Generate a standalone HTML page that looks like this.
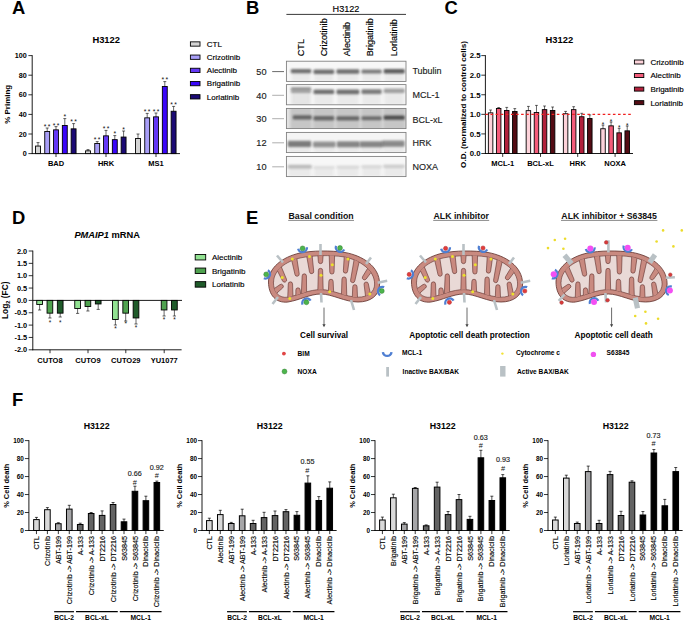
<!DOCTYPE html>
<html><head><meta charset="utf-8"><style>
html,body{margin:0;padding:0;background:#fff;}
svg{display:block;}
text{font-family:"Liberation Sans", sans-serif;}
</style></head><body>
<svg width="685" height="621" viewBox="0 0 685 621" font-family='"Liberation Sans", sans-serif'>
<rect width="685" height="621" fill="#fff"/>
<text x="11.90" y="14.07" font-size="18.4" font-weight="bold">A</text>
<text x="246.00" y="14.07" font-size="18.4" font-weight="bold">B</text>
<text x="444.60" y="14.07" font-size="18.4" font-weight="bold">C</text>
<text x="12.10" y="223.87" font-size="18.4" font-weight="bold">D</text>
<text x="246.00" y="223.77" font-size="18.4" font-weight="bold">E</text>
<text x="12.10" y="405.97" font-size="18.4" font-weight="bold">F</text>
<text x="106.20" y="42.97" font-size="9.4" text-anchor="middle" font-weight="bold" fill="#000"  >H3122</text>
<line x1="28.40" y1="153.60" x2="32.20" y2="153.60" stroke="#000" stroke-width="0.8" />
<text x="26.80" y="156.18" font-size="7.2" text-anchor="end" font-weight="bold" fill="#000"  >0</text>
<line x1="28.40" y1="134.00" x2="32.20" y2="134.00" stroke="#000" stroke-width="0.8" />
<text x="26.80" y="136.58" font-size="7.2" text-anchor="end" font-weight="bold" fill="#000"  >20</text>
<line x1="28.40" y1="114.40" x2="32.20" y2="114.40" stroke="#000" stroke-width="0.8" />
<text x="26.80" y="116.98" font-size="7.2" text-anchor="end" font-weight="bold" fill="#000"  >40</text>
<line x1="28.40" y1="94.80" x2="32.20" y2="94.80" stroke="#000" stroke-width="0.8" />
<text x="26.80" y="97.38" font-size="7.2" text-anchor="end" font-weight="bold" fill="#000"  >60</text>
<line x1="28.40" y1="75.20" x2="32.20" y2="75.20" stroke="#000" stroke-width="0.8" />
<text x="26.80" y="77.78" font-size="7.2" text-anchor="end" font-weight="bold" fill="#000"  >80</text>
<line x1="28.40" y1="55.60" x2="32.20" y2="55.60" stroke="#000" stroke-width="0.8" />
<text x="26.80" y="58.18" font-size="7.2" text-anchor="end" font-weight="bold" fill="#000"  >100</text>
<line x1="32.20" y1="55.20" x2="32.20" y2="154.00" stroke="#000" stroke-width="0.9" />
<line x1="31.80" y1="153.60" x2="180.00" y2="153.60" stroke="#000" stroke-width="0.9" />
<text transform="translate(9.56,104.30) rotate(-90)" font-size="8.0" text-anchor="middle" font-weight="bold" fill="#000">% Priming</text>
<line x1="38.00" y1="147.60" x2="38.00" y2="142.60" stroke="#000" stroke-width="0.6" />
<line x1="36.50" y1="142.60" x2="39.50" y2="142.60" stroke="#000" stroke-width="0.6" />
<rect x="35.55" y="146.05" width="4.90" height="7.55" fill="#d4d4d4" stroke="#000" stroke-width="0.9" />
<line x1="47.20" y1="133.00" x2="47.20" y2="128.00" stroke="#000" stroke-width="0.6" />
<line x1="45.70" y1="128.00" x2="48.70" y2="128.00" stroke="#000" stroke-width="0.6" />
<rect x="44.75" y="131.45" width="4.90" height="22.15" fill="#a89ef7" stroke="#000" stroke-width="0.9" />
<text x="45.20" y="129.48" font-size="6.8" text-anchor="middle" fill="#111">*</text>
<text x="49.20" y="129.48" font-size="6.8" text-anchor="middle" fill="#111">*</text>
<line x1="56.00" y1="131.40" x2="56.00" y2="126.60" stroke="#000" stroke-width="0.6" />
<line x1="54.50" y1="126.60" x2="57.50" y2="126.60" stroke="#000" stroke-width="0.6" />
<rect x="53.55" y="129.85" width="4.90" height="23.75" fill="#6438f5" stroke="#000" stroke-width="0.9" />
<text x="54.00" y="127.88" font-size="6.8" text-anchor="middle" fill="#111">*</text>
<text x="58.00" y="127.88" font-size="6.8" text-anchor="middle" fill="#111">*</text>
<line x1="64.80" y1="127.00" x2="64.80" y2="118.60" stroke="#000" stroke-width="0.6" />
<line x1="63.30" y1="118.60" x2="66.30" y2="118.60" stroke="#000" stroke-width="0.6" />
<rect x="62.35" y="125.45" width="4.90" height="28.15" fill="#3a06fa" stroke="#000" stroke-width="0.9" />
<text x="64.80" y="119.48" font-size="6.8" text-anchor="middle" fill="#111">*</text>
<line x1="73.60" y1="130.40" x2="73.60" y2="123.60" stroke="#000" stroke-width="0.6" />
<line x1="72.10" y1="123.60" x2="75.10" y2="123.60" stroke="#000" stroke-width="0.6" />
<rect x="71.15" y="128.85" width="4.90" height="24.75" fill="#1b0a74" stroke="#000" stroke-width="0.9" />
<text x="71.60" y="124.48" font-size="6.8" text-anchor="middle" fill="#111">*</text>
<text x="75.60" y="124.48" font-size="6.8" text-anchor="middle" fill="#111">*</text>
<line x1="56.00" y1="153.60" x2="56.00" y2="157.00" stroke="#000" stroke-width="0.8" />
<text x="56.00" y="166.09" font-size="7.5" text-anchor="middle" font-weight="bold" fill="#000"  >BAD</text>
<line x1="88.00" y1="152.40" x2="88.00" y2="149.60" stroke="#000" stroke-width="0.6" />
<line x1="86.50" y1="149.60" x2="89.50" y2="149.60" stroke="#000" stroke-width="0.6" />
<rect x="85.55" y="150.85" width="4.90" height="2.75" fill="#d4d4d4" stroke="#000" stroke-width="0.9" />
<line x1="97.20" y1="145.00" x2="97.20" y2="141.60" stroke="#000" stroke-width="0.6" />
<line x1="95.70" y1="141.60" x2="98.70" y2="141.60" stroke="#000" stroke-width="0.6" />
<rect x="94.75" y="143.45" width="4.90" height="10.15" fill="#a89ef7" stroke="#000" stroke-width="0.9" />
<text x="95.20" y="142.48" font-size="6.8" text-anchor="middle" fill="#111">*</text>
<text x="99.20" y="142.48" font-size="6.8" text-anchor="middle" fill="#111">*</text>
<line x1="106.00" y1="137.40" x2="106.00" y2="130.40" stroke="#000" stroke-width="0.6" />
<line x1="104.50" y1="130.40" x2="107.50" y2="130.40" stroke="#000" stroke-width="0.6" />
<rect x="103.55" y="135.85" width="4.90" height="17.75" fill="#6438f5" stroke="#000" stroke-width="0.9" />
<text x="104.00" y="131.48" font-size="6.8" text-anchor="middle" fill="#111">*</text>
<text x="108.00" y="131.48" font-size="6.8" text-anchor="middle" fill="#111">*</text>
<line x1="114.80" y1="141.20" x2="114.80" y2="135.60" stroke="#000" stroke-width="0.6" />
<line x1="113.30" y1="135.60" x2="116.30" y2="135.60" stroke="#000" stroke-width="0.6" />
<rect x="112.35" y="139.65" width="4.90" height="13.95" fill="#3a06fa" stroke="#000" stroke-width="0.9" />
<text x="114.80" y="135.88" font-size="6.8" text-anchor="middle" fill="#111">*</text>
<line x1="123.60" y1="138.60" x2="123.60" y2="131.00" stroke="#000" stroke-width="0.6" />
<line x1="122.10" y1="131.00" x2="125.10" y2="131.00" stroke="#000" stroke-width="0.6" />
<rect x="121.15" y="137.05" width="4.90" height="16.55" fill="#1b0a74" stroke="#000" stroke-width="0.9" />
<text x="123.60" y="131.88" font-size="6.8" text-anchor="middle" fill="#111">*</text>
<line x1="106.00" y1="153.60" x2="106.00" y2="157.00" stroke="#000" stroke-width="0.8" />
<text x="106.00" y="166.09" font-size="7.5" text-anchor="middle" font-weight="bold" fill="#000"  >HRK</text>
<line x1="138.00" y1="140.00" x2="138.00" y2="134.00" stroke="#000" stroke-width="0.6" />
<line x1="136.50" y1="134.00" x2="139.50" y2="134.00" stroke="#000" stroke-width="0.6" />
<rect x="135.55" y="138.45" width="4.90" height="15.15" fill="#d4d4d4" stroke="#000" stroke-width="0.9" />
<line x1="147.20" y1="119.40" x2="147.20" y2="113.40" stroke="#000" stroke-width="0.6" />
<line x1="145.70" y1="113.40" x2="148.70" y2="113.40" stroke="#000" stroke-width="0.6" />
<rect x="144.75" y="117.85" width="4.90" height="35.75" fill="#a89ef7" stroke="#000" stroke-width="0.9" />
<text x="145.20" y="114.28" font-size="6.8" text-anchor="middle" fill="#111">*</text>
<text x="149.20" y="114.28" font-size="6.8" text-anchor="middle" fill="#111">*</text>
<line x1="156.00" y1="118.40" x2="156.00" y2="113.00" stroke="#000" stroke-width="0.6" />
<line x1="154.50" y1="113.00" x2="157.50" y2="113.00" stroke="#000" stroke-width="0.6" />
<rect x="153.55" y="116.85" width="4.90" height="36.75" fill="#6438f5" stroke="#000" stroke-width="0.9" />
<text x="154.00" y="114.28" font-size="6.8" text-anchor="middle" fill="#111">*</text>
<text x="158.00" y="114.28" font-size="6.8" text-anchor="middle" fill="#111">*</text>
<line x1="164.80" y1="88.00" x2="164.80" y2="81.60" stroke="#000" stroke-width="0.6" />
<line x1="163.30" y1="81.60" x2="166.30" y2="81.60" stroke="#000" stroke-width="0.6" />
<rect x="162.35" y="86.45" width="4.90" height="67.15" fill="#3a06fa" stroke="#000" stroke-width="0.9" />
<text x="162.80" y="82.48" font-size="6.8" text-anchor="middle" fill="#111">*</text>
<text x="166.80" y="82.48" font-size="6.8" text-anchor="middle" fill="#111">*</text>
<line x1="173.60" y1="112.80" x2="173.60" y2="106.40" stroke="#000" stroke-width="0.6" />
<line x1="172.10" y1="106.40" x2="175.10" y2="106.40" stroke="#000" stroke-width="0.6" />
<rect x="171.15" y="111.25" width="4.90" height="42.35" fill="#1b0a74" stroke="#000" stroke-width="0.9" />
<text x="171.60" y="107.48" font-size="6.8" text-anchor="middle" fill="#111">*</text>
<text x="175.60" y="107.48" font-size="6.8" text-anchor="middle" fill="#111">*</text>
<line x1="156.00" y1="153.60" x2="156.00" y2="157.00" stroke="#000" stroke-width="0.8" />
<text x="156.00" y="166.09" font-size="7.5" text-anchor="middle" font-weight="bold" fill="#000"  >MS1</text>
<rect x="190.40" y="41.85" width="9.60" height="4.30" fill="#d4d4d4" stroke="#000" stroke-width="0.9" />
<text x="206.80" y="46.86" font-size="8.0" text-anchor="start" font-weight="normal" fill="#000" stroke="#000" stroke-width="0.15"  >CTL</text>
<rect x="190.40" y="55.05" width="9.60" height="4.30" fill="#a89ef7" stroke="#000" stroke-width="0.9" />
<text x="206.80" y="60.06" font-size="8.0" text-anchor="start" font-weight="normal" fill="#000" stroke="#000" stroke-width="0.15"  >Crizotinib</text>
<rect x="190.40" y="68.25" width="9.60" height="4.30" fill="#6438f5" stroke="#000" stroke-width="0.9" />
<text x="206.80" y="73.26" font-size="8.0" text-anchor="start" font-weight="normal" fill="#000" stroke="#000" stroke-width="0.15"  >Alectinib</text>
<rect x="190.40" y="81.45" width="9.60" height="4.30" fill="#3a06fa" stroke="#000" stroke-width="0.9" />
<text x="206.80" y="86.46" font-size="8.0" text-anchor="start" font-weight="normal" fill="#000" stroke="#000" stroke-width="0.15"  >Brigatinib</text>
<rect x="190.40" y="94.65" width="9.60" height="4.30" fill="#1b0a74" stroke="#000" stroke-width="0.9" />
<text x="206.80" y="99.66" font-size="8.0" text-anchor="start" font-weight="normal" fill="#000" stroke="#000" stroke-width="0.15"  >Lorlatinib</text>
<text x="346.00" y="12.06" font-size="9.1" text-anchor="middle" font-weight="normal" fill="#000" stroke="#000" stroke-width="0.15"  >H3122</text>
<line x1="286.40" y1="14.40" x2="406.00" y2="14.40" stroke="#222" stroke-width="0.9" />
<text transform="translate(303.66,56.20) rotate(-90)" font-size="9.1" text-anchor="start" font-weight="normal" fill="#000" stroke="#000" stroke-width="0.15">CTL</text>
<text transform="translate(326.66,56.20) rotate(-90)" font-size="9.1" text-anchor="start" font-weight="normal" fill="#000" stroke="#000" stroke-width="0.15">Crizotinib</text>
<text transform="translate(350.16,56.20) rotate(-90)" font-size="9.1" text-anchor="start" font-weight="normal" fill="#000" stroke="#000" stroke-width="0.15">Alectinib</text>
<text transform="translate(373.46,56.20) rotate(-90)" font-size="9.1" text-anchor="start" font-weight="normal" fill="#000" stroke="#000" stroke-width="0.15">Brigatinib</text>
<text transform="translate(396.66,56.20) rotate(-90)" font-size="9.1" text-anchor="start" font-weight="normal" fill="#000" stroke="#000" stroke-width="0.15">Lorlatinib</text>
<defs><filter id="bl" x="-30%" y="-100%" width="160%" height="300%"><feGaussianBlur stdDeviation="1.3 1.0"/></filter><filter id="bl2" x="-30%" y="-30%" width="160%" height="160%"><feGaussianBlur stdDeviation="1.6 1.0"/></filter></defs>
<rect x="286.4" y="61.20" width="119.6" height="20.2" fill="#f7f7f7" stroke="none"/>
<clipPath id="bx0"><rect x="286.4" y="61.20" width="119.6" height="20.2"/></clipPath>
<g clip-path="url(#bx0)">
<rect x="291.6" y="71.10" width="18.8" height="10.30" fill="#e0e0e0" opacity="0.55" filter="url(#bl2)"/>
<rect x="314.3" y="71.70" width="19.1" height="9.70" fill="#e0e0e0" opacity="0.55" filter="url(#bl2)"/>
<rect x="337.3" y="71.50" width="21.2" height="9.90" fill="#e0e0e0" opacity="0.55" filter="url(#bl2)"/>
<rect x="362.3" y="71.50" width="18.5" height="9.90" fill="#e0e0e0" opacity="0.55" filter="url(#bl2)"/>
<rect x="384.5" y="71.20" width="19.4" height="10.20" fill="#e0e0e0" opacity="0.55" filter="url(#bl2)"/>
<rect x="290.8" y="68.90" width="20.4" height="4.4" rx="1.2" fill="#5a5a5a" opacity="0.85" filter="url(#bl)"/>
<rect x="313.5" y="69.50" width="20.7" height="4.4" rx="1.2" fill="#5a5a5a" opacity="0.85" filter="url(#bl)"/>
<rect x="336.5" y="69.30" width="22.8" height="4.4" rx="1.2" fill="#5a5a5a" opacity="0.85" filter="url(#bl)"/>
<rect x="361.5" y="69.40" width="20.1" height="4.2" rx="1.2" fill="#5e5e5e" opacity="0.8" filter="url(#bl)"/>
<rect x="383.7" y="68.90" width="21.0" height="4.6" rx="1.2" fill="#505050" opacity="0.9" filter="url(#bl)"/>
</g>
<rect x="286.4" y="61.20" width="119.6" height="20.2" fill="none" stroke="#7c7c7c" stroke-width="0.85"/>
<text x="266.60" y="74.89" font-size="9.2" text-anchor="end" font-weight="normal" fill="#222" stroke="#222" stroke-width="0.15"  >50</text>
<line x1="272.20" y1="71.60" x2="284.00" y2="71.60" stroke="#444" stroke-width="0.8" />
<text x="412.40" y="74.42" font-size="9.0" text-anchor="start" font-weight="normal" fill="#222" stroke="#222" stroke-width="0.15"  >Tubulin</text>
<rect x="286.4" y="84.60" width="119.6" height="20.2" fill="#f7f7f7" stroke="none"/>
<clipPath id="bx1"><rect x="286.4" y="84.60" width="119.6" height="20.2"/></clipPath>
<g clip-path="url(#bx1)">
<rect x="291.6" y="88.90" width="18.8" height="15.90" fill="#e0e0e0" opacity="0.55" filter="url(#bl2)"/>
<rect x="291.6" y="91.60" width="18.8" height="13.20" fill="#e0e0e0" opacity="0.55" filter="url(#bl2)"/>
<rect x="314.3" y="91.80" width="19.1" height="13.00" fill="#e0e0e0" opacity="0.55" filter="url(#bl2)"/>
<rect x="337.3" y="91.90" width="21.2" height="12.90" fill="#e0e0e0" opacity="0.55" filter="url(#bl2)"/>
<rect x="362.3" y="91.60" width="18.5" height="13.20" fill="#e0e0e0" opacity="0.55" filter="url(#bl2)"/>
<rect x="384.5" y="90.80" width="19.4" height="14.00" fill="#e0e0e0" opacity="0.55" filter="url(#bl2)"/>
<rect x="290.8" y="87.30" width="20.4" height="3.2" rx="1.2" fill="#5e5e5e" opacity="0.65" filter="url(#bl)"/>
<rect x="290.8" y="90.20" width="20.4" height="2.8" rx="1.2" fill="#6a6a6a" opacity="0.55" filter="url(#bl)"/>
<rect x="313.5" y="89.50" width="20.7" height="4.6" rx="1.2" fill="#5a5a5a" opacity="0.85" filter="url(#bl)"/>
<rect x="336.5" y="89.60" width="22.8" height="4.6" rx="1.2" fill="#5a5a5a" opacity="0.85" filter="url(#bl)"/>
<rect x="361.5" y="89.20" width="20.1" height="4.8" rx="1.2" fill="#5e5e5e" opacity="0.8" filter="url(#bl)"/>
<rect x="383.7" y="88.60" width="21.0" height="4.4" rx="1.2" fill="#6e6e6e" opacity="0.62" filter="url(#bl)"/>
</g>
<rect x="286.4" y="84.60" width="119.6" height="20.2" fill="none" stroke="#7c7c7c" stroke-width="0.85"/>
<text x="266.60" y="98.59" font-size="9.2" text-anchor="end" font-weight="normal" fill="#222" stroke="#222" stroke-width="0.15"  >40</text>
<line x1="272.20" y1="95.30" x2="284.00" y2="95.30" stroke="#9a9a9a" stroke-width="0.8" />
<text x="412.40" y="98.42" font-size="9.0" text-anchor="start" font-weight="normal" fill="#222" stroke="#222" stroke-width="0.15"  >MCL-1</text>
<rect x="286.4" y="108.40" width="119.6" height="20.2" fill="#e4e4e4" stroke="none"/>
<clipPath id="bx2"><rect x="286.4" y="108.40" width="119.6" height="20.2"/></clipPath>
<g clip-path="url(#bx2)">
<rect x="290.1" y="106.40" width="21.8" height="24.2" fill="#c6c6c6" filter="url(#bl2)"/>
<rect x="312.8" y="106.40" width="22.1" height="24.2" fill="#c6c6c6" filter="url(#bl2)"/>
<rect x="335.8" y="106.40" width="24.2" height="24.2" fill="#c6c6c6" filter="url(#bl2)"/>
<rect x="360.8" y="106.40" width="21.5" height="24.2" fill="#c6c6c6" filter="url(#bl2)"/>
<rect x="383.0" y="106.40" width="22.4" height="24.2" fill="#c6c6c6" filter="url(#bl2)"/>
<rect x="292.8" y="115.30" width="18.9" height="4.2" rx="1.2" fill="#505050" opacity="0.82" filter="url(#bl)"/>
<rect x="313.5" y="116.10" width="20.7" height="4.4" rx="1.2" fill="#505050" opacity="0.78" filter="url(#bl)"/>
<rect x="336.5" y="116.20" width="22.8" height="4.2" rx="1.2" fill="#505050" opacity="0.8" filter="url(#bl)"/>
<rect x="361.5" y="116.30" width="20.1" height="4.0" rx="1.2" fill="#505050" opacity="0.75" filter="url(#bl)"/>
<rect x="383.7" y="115.40" width="21.0" height="4.4" rx="1.2" fill="#3c3c3c" opacity="0.88" filter="url(#bl)"/>
</g>
<rect x="286.4" y="108.40" width="119.6" height="20.2" fill="none" stroke="#7c7c7c" stroke-width="0.85"/>
<text x="266.60" y="121.99" font-size="9.2" text-anchor="end" font-weight="normal" fill="#222" stroke="#222" stroke-width="0.15"  >30</text>
<line x1="272.20" y1="118.70" x2="284.00" y2="118.70" stroke="#9a9a9a" stroke-width="0.8" />
<text x="412.40" y="122.62" font-size="9.0" text-anchor="start" font-weight="normal" fill="#222" stroke="#222" stroke-width="0.15"  >BCL-xL</text>
<rect x="286.4" y="132.40" width="119.6" height="20.2" fill="#f5f5f5" stroke="none"/>
<clipPath id="bx3"><rect x="286.4" y="132.40" width="119.6" height="20.2"/></clipPath>
<g clip-path="url(#bx3)">
<rect x="288.6" y="143.80" width="21.8" height="8.80" fill="#e0e0e0" opacity="0.55" filter="url(#bl2)"/>
<rect x="313.8" y="144.30" width="21.0" height="8.30" fill="#e0e0e0" opacity="0.55" filter="url(#bl2)"/>
<rect x="337.6" y="144.20" width="21.4" height="8.40" fill="#e0e0e0" opacity="0.55" filter="url(#bl2)"/>
<rect x="360.6" y="144.20" width="21.6" height="8.40" fill="#e0e0e0" opacity="0.55" filter="url(#bl2)"/>
<rect x="382.8" y="143.60" width="21.0" height="9.00" fill="#e0e0e0" opacity="0.55" filter="url(#bl2)"/>
<rect x="287.8" y="140.70" width="23.4" height="6.2" rx="1.2" fill="#5c5c5c" opacity="0.78" filter="url(#bl)"/>
<rect x="313.0" y="141.40" width="22.6" height="5.8" rx="1.2" fill="#666" opacity="0.68" filter="url(#bl)"/>
<rect x="336.8" y="141.20" width="23.0" height="6.0" rx="1.2" fill="#5e5e5e" opacity="0.72" filter="url(#bl)"/>
<rect x="359.8" y="141.20" width="23.2" height="6.0" rx="1.2" fill="#5e5e5e" opacity="0.72" filter="url(#bl)"/>
<rect x="382.0" y="140.50" width="22.6" height="6.2" rx="1.2" fill="#606060" opacity="0.7" filter="url(#bl)"/>
</g>
<rect x="286.4" y="132.40" width="119.6" height="20.2" fill="none" stroke="#7c7c7c" stroke-width="0.85"/>
<text x="266.60" y="146.09" font-size="9.2" text-anchor="end" font-weight="normal" fill="#222" stroke="#222" stroke-width="0.15"  >12</text>
<line x1="272.20" y1="142.80" x2="284.00" y2="142.80" stroke="#9a9a9a" stroke-width="0.8" />
<text x="412.40" y="146.02" font-size="9.0" text-anchor="start" font-weight="normal" fill="#222" stroke="#222" stroke-width="0.15"  >HRK</text>
<rect x="286.4" y="156.40" width="119.6" height="20.2" fill="#f7f7f7" stroke="none"/>
<clipPath id="bx4"><rect x="286.4" y="156.40" width="119.6" height="20.2"/></clipPath>
<g clip-path="url(#bx4)">
<rect x="288.6" y="166.60" width="22.4" height="10.00" fill="#e0e0e0" opacity="0.55" filter="url(#bl2)"/>
<rect x="314.0" y="167.20" width="20.0" height="9.40" fill="#e0e0e0" opacity="0.55" filter="url(#bl2)"/>
<rect x="337.4" y="167.00" width="21.1" height="9.60" fill="#e0e0e0" opacity="0.55" filter="url(#bl2)"/>
<rect x="362.0" y="166.60" width="19.0" height="10.00" fill="#e0e0e0" opacity="0.55" filter="url(#bl2)"/>
<rect x="384.0" y="166.20" width="20.0" height="10.40" fill="#e0e0e0" opacity="0.55" filter="url(#bl2)"/>
<rect x="287.8" y="164.70" width="24.0" height="3.8" rx="1.2" fill="#8e8e8e" opacity="0.55" filter="url(#bl)"/>
<rect x="313.2" y="165.70" width="21.6" height="3.0" rx="1.2" fill="#b4b4b4" opacity="0.3" filter="url(#bl)"/>
<rect x="336.6" y="165.40" width="22.7" height="3.2" rx="1.2" fill="#aaaaaa" opacity="0.35" filter="url(#bl)"/>
<rect x="361.2" y="165.00" width="20.6" height="3.2" rx="1.2" fill="#aaaaaa" opacity="0.35" filter="url(#bl)"/>
<rect x="383.2" y="164.40" width="21.6" height="3.6" rx="1.2" fill="#a0a0a0" opacity="0.42" filter="url(#bl)"/>
</g>
<rect x="286.4" y="156.40" width="119.6" height="20.2" fill="none" stroke="#7c7c7c" stroke-width="0.85"/>
<text x="266.60" y="170.09" font-size="9.2" text-anchor="end" font-weight="normal" fill="#222" stroke="#222" stroke-width="0.15"  >10</text>
<line x1="272.20" y1="166.80" x2="284.00" y2="166.80" stroke="#9a9a9a" stroke-width="0.8" />
<text x="412.40" y="169.82" font-size="9.0" text-anchor="start" font-weight="normal" fill="#222" stroke="#222" stroke-width="0.15"  >NOXA</text>
<text x="559.30" y="42.87" font-size="9.4" text-anchor="middle" font-weight="bold" fill="#000"  >H3122</text>
<line x1="481.30" y1="153.50" x2="485.40" y2="153.50" stroke="#000" stroke-width="0.8" />
<text x="480.60" y="156.29" font-size="7.8" text-anchor="end" font-weight="bold" fill="#000"  >0.0</text>
<line x1="481.30" y1="133.92" x2="485.40" y2="133.92" stroke="#000" stroke-width="0.8" />
<text x="480.60" y="136.71" font-size="7.8" text-anchor="end" font-weight="bold" fill="#000"  >0.5</text>
<line x1="481.30" y1="114.34" x2="485.40" y2="114.34" stroke="#000" stroke-width="0.8" />
<text x="480.60" y="117.13" font-size="7.8" text-anchor="end" font-weight="bold" fill="#000"  >1.0</text>
<line x1="481.30" y1="94.76" x2="485.40" y2="94.76" stroke="#000" stroke-width="0.8" />
<text x="480.60" y="97.55" font-size="7.8" text-anchor="end" font-weight="bold" fill="#000"  >1.5</text>
<line x1="481.30" y1="75.18" x2="485.40" y2="75.18" stroke="#000" stroke-width="0.8" />
<text x="480.60" y="77.97" font-size="7.8" text-anchor="end" font-weight="bold" fill="#000"  >2.0</text>
<line x1="481.30" y1="55.60" x2="485.40" y2="55.60" stroke="#000" stroke-width="0.8" />
<text x="480.60" y="58.39" font-size="7.8" text-anchor="end" font-weight="bold" fill="#000"  >2.5</text>
<line x1="485.40" y1="55.20" x2="485.40" y2="153.90" stroke="#000" stroke-width="0.9" />
<line x1="485.00" y1="153.50" x2="633.00" y2="153.50" stroke="#000" stroke-width="0.9" />
<text transform="translate(465.60,104.50) rotate(-90)" font-size="8.1" text-anchor="middle" font-weight="bold" fill="#000">O.D. (normalized to control cells)</text>
<line x1="490.60" y1="114.40" x2="490.60" y2="110.00" stroke="#000" stroke-width="0.6" />
<line x1="489.20" y1="110.00" x2="492.00" y2="110.00" stroke="#000" stroke-width="0.6" />
<rect x="488.35" y="112.85" width="4.50" height="40.65" fill="#fdd3da" stroke="#000" stroke-width="0.9" />
<line x1="498.67" y1="110.00" x2="498.67" y2="107.60" stroke="#000" stroke-width="0.6" />
<line x1="497.27" y1="107.60" x2="500.07" y2="107.60" stroke="#000" stroke-width="0.6" />
<rect x="496.42" y="108.45" width="4.50" height="45.05" fill="#f45c7a" stroke="#000" stroke-width="0.9" />
<line x1="506.74" y1="112.00" x2="506.74" y2="107.40" stroke="#000" stroke-width="0.6" />
<line x1="505.34" y1="107.40" x2="508.14" y2="107.40" stroke="#000" stroke-width="0.6" />
<rect x="504.49" y="110.45" width="4.50" height="43.05" fill="#b2213c" stroke="#000" stroke-width="0.9" />
<line x1="514.81" y1="113.00" x2="514.81" y2="108.60" stroke="#000" stroke-width="0.6" />
<line x1="513.41" y1="108.60" x2="516.21" y2="108.60" stroke="#000" stroke-width="0.6" />
<rect x="512.56" y="111.45" width="4.50" height="42.05" fill="#540c14" stroke="#000" stroke-width="0.9" />
<line x1="502.70" y1="153.50" x2="502.70" y2="156.90" stroke="#000" stroke-width="0.8" />
<text x="502.70" y="166.28" font-size="7.5" text-anchor="middle" font-weight="bold" fill="#000"  >MCL-1</text>
<line x1="528.40" y1="112.20" x2="528.40" y2="106.40" stroke="#000" stroke-width="0.6" />
<line x1="527.00" y1="106.40" x2="529.80" y2="106.40" stroke="#000" stroke-width="0.6" />
<rect x="526.15" y="110.65" width="4.50" height="42.85" fill="#fdd3da" stroke="#000" stroke-width="0.9" />
<line x1="536.47" y1="114.00" x2="536.47" y2="105.40" stroke="#000" stroke-width="0.6" />
<line x1="535.07" y1="105.40" x2="537.87" y2="105.40" stroke="#000" stroke-width="0.6" />
<rect x="534.22" y="112.45" width="4.50" height="41.05" fill="#f45c7a" stroke="#000" stroke-width="0.9" />
<line x1="544.54" y1="111.20" x2="544.54" y2="106.00" stroke="#000" stroke-width="0.6" />
<line x1="543.14" y1="106.00" x2="545.94" y2="106.00" stroke="#000" stroke-width="0.6" />
<rect x="542.29" y="109.65" width="4.50" height="43.85" fill="#b2213c" stroke="#000" stroke-width="0.9" />
<line x1="552.61" y1="112.00" x2="552.61" y2="107.00" stroke="#000" stroke-width="0.6" />
<line x1="551.21" y1="107.00" x2="554.01" y2="107.00" stroke="#000" stroke-width="0.6" />
<rect x="550.36" y="110.45" width="4.50" height="43.05" fill="#540c14" stroke="#000" stroke-width="0.9" />
<line x1="540.50" y1="153.50" x2="540.50" y2="156.90" stroke="#000" stroke-width="0.8" />
<text x="540.50" y="166.28" font-size="7.5" text-anchor="middle" font-weight="bold" fill="#000"  >BCL-xL</text>
<line x1="565.60" y1="115.30" x2="565.60" y2="111.40" stroke="#000" stroke-width="0.6" />
<line x1="564.20" y1="111.40" x2="567.00" y2="111.40" stroke="#000" stroke-width="0.6" />
<rect x="563.35" y="113.75" width="4.50" height="39.75" fill="#fdd3da" stroke="#000" stroke-width="0.9" />
<line x1="573.67" y1="111.20" x2="573.67" y2="106.70" stroke="#000" stroke-width="0.6" />
<line x1="572.27" y1="106.70" x2="575.07" y2="106.70" stroke="#000" stroke-width="0.6" />
<rect x="571.42" y="109.65" width="4.50" height="43.85" fill="#f45c7a" stroke="#000" stroke-width="0.9" />
<line x1="581.74" y1="118.30" x2="581.74" y2="113.30" stroke="#000" stroke-width="0.6" />
<line x1="580.34" y1="113.30" x2="583.14" y2="113.30" stroke="#000" stroke-width="0.6" />
<rect x="579.49" y="116.75" width="4.50" height="36.75" fill="#b2213c" stroke="#000" stroke-width="0.9" />
<line x1="589.81" y1="120.10" x2="589.81" y2="114.90" stroke="#000" stroke-width="0.6" />
<line x1="588.41" y1="114.90" x2="591.21" y2="114.90" stroke="#000" stroke-width="0.6" />
<rect x="587.56" y="118.55" width="4.50" height="34.95" fill="#540c14" stroke="#000" stroke-width="0.9" />
<line x1="577.70" y1="153.50" x2="577.70" y2="156.90" stroke="#000" stroke-width="0.8" />
<text x="577.70" y="166.28" font-size="7.5" text-anchor="middle" font-weight="bold" fill="#000"  >HRK</text>
<line x1="603.00" y1="130.30" x2="603.00" y2="125.10" stroke="#000" stroke-width="0.6" />
<line x1="601.60" y1="125.10" x2="604.40" y2="125.10" stroke="#000" stroke-width="0.6" />
<rect x="600.75" y="128.75" width="4.50" height="24.75" fill="#fdd3da" stroke="#000" stroke-width="0.9" />
<text x="603.00" y="126.95" font-size="6.4" text-anchor="middle" fill="#111">*</text>
<line x1="611.07" y1="127.40" x2="611.07" y2="122.00" stroke="#000" stroke-width="0.6" />
<line x1="609.67" y1="122.00" x2="612.47" y2="122.00" stroke="#000" stroke-width="0.6" />
<rect x="608.82" y="125.85" width="4.50" height="27.65" fill="#f45c7a" stroke="#000" stroke-width="0.9" />
<text x="611.07" y="124.05" font-size="6.4" text-anchor="middle" fill="#111">*</text>
<line x1="619.14" y1="134.40" x2="619.14" y2="128.30" stroke="#000" stroke-width="0.6" />
<line x1="617.74" y1="128.30" x2="620.54" y2="128.30" stroke="#000" stroke-width="0.6" />
<rect x="616.89" y="132.85" width="4.50" height="20.65" fill="#b2213c" stroke="#000" stroke-width="0.9" />
<text x="619.14" y="129.95" font-size="6.4" text-anchor="middle" fill="#111">*</text>
<line x1="627.21" y1="132.40" x2="627.21" y2="126.00" stroke="#000" stroke-width="0.6" />
<line x1="625.81" y1="126.00" x2="628.61" y2="126.00" stroke="#000" stroke-width="0.6" />
<rect x="624.96" y="130.85" width="4.50" height="22.65" fill="#540c14" stroke="#000" stroke-width="0.9" />
<text x="627.21" y="127.55" font-size="6.4" text-anchor="middle" fill="#111">*</text>
<line x1="615.10" y1="153.50" x2="615.10" y2="156.90" stroke="#000" stroke-width="0.8" />
<text x="615.10" y="166.28" font-size="7.5" text-anchor="middle" font-weight="bold" fill="#000"  >NOXA</text>
<line x1="485.40" y1="114.34" x2="631.00" y2="114.34" stroke="#f02020" stroke-width="1.2" stroke-dasharray="2.6 2.5"/>
<rect x="634.40" y="60.00" width="9.40" height="4.00" fill="#fdd3da" stroke="#000" stroke-width="0.9" />
<text x="650.40" y="64.86" font-size="8.0" text-anchor="start" font-weight="normal" fill="#000" stroke="#000" stroke-width="0.15"  >Crizotinib</text>
<rect x="634.40" y="73.55" width="9.40" height="4.00" fill="#f45c7a" stroke="#000" stroke-width="0.9" />
<text x="650.40" y="78.41" font-size="8.0" text-anchor="start" font-weight="normal" fill="#000" stroke="#000" stroke-width="0.15"  >Alectinib</text>
<rect x="634.40" y="87.10" width="9.40" height="4.00" fill="#b2213c" stroke="#000" stroke-width="0.9" />
<text x="650.40" y="91.96" font-size="8.0" text-anchor="start" font-weight="normal" fill="#000" stroke="#000" stroke-width="0.15"  >Brigatinib</text>
<rect x="634.40" y="100.65" width="9.40" height="4.00" fill="#540c14" stroke="#000" stroke-width="0.9" />
<text x="650.40" y="105.51" font-size="8.0" text-anchor="start" font-weight="normal" fill="#000" stroke="#000" stroke-width="0.15"  >Lorlatinib</text>
<text x="107.2" y="238.33" font-size="9.3" text-anchor="middle" font-weight="bold"><tspan font-style="italic">PMAIP1</tspan> mRNA</text>
<line x1="28.70" y1="251.00" x2="32.80" y2="251.00" stroke="#000" stroke-width="0.8" />
<text x="27.20" y="253.65" font-size="7.4" text-anchor="end" font-weight="bold" fill="#000"  >2.0</text>
<line x1="28.70" y1="263.35" x2="32.80" y2="263.35" stroke="#000" stroke-width="0.8" />
<text x="27.20" y="266.00" font-size="7.4" text-anchor="end" font-weight="bold" fill="#000"  >1.5</text>
<line x1="28.70" y1="275.70" x2="32.80" y2="275.70" stroke="#000" stroke-width="0.8" />
<text x="27.20" y="278.35" font-size="7.4" text-anchor="end" font-weight="bold" fill="#000"  >1.0</text>
<line x1="28.70" y1="288.05" x2="32.80" y2="288.05" stroke="#000" stroke-width="0.8" />
<text x="27.20" y="290.70" font-size="7.4" text-anchor="end" font-weight="bold" fill="#000"  >0.5</text>
<line x1="28.70" y1="300.40" x2="32.80" y2="300.40" stroke="#000" stroke-width="0.8" />
<text x="27.20" y="303.05" font-size="7.4" text-anchor="end" font-weight="bold" fill="#000"  >0.0</text>
<line x1="28.70" y1="312.75" x2="32.80" y2="312.75" stroke="#000" stroke-width="0.8" />
<text x="27.20" y="315.40" font-size="7.4" text-anchor="end" font-weight="bold" fill="#000"  >-0.5</text>
<line x1="28.70" y1="325.10" x2="32.80" y2="325.10" stroke="#000" stroke-width="0.8" />
<text x="27.20" y="327.75" font-size="7.4" text-anchor="end" font-weight="bold" fill="#000"  >-1.0</text>
<line x1="28.70" y1="337.45" x2="32.80" y2="337.45" stroke="#000" stroke-width="0.8" />
<text x="27.20" y="340.10" font-size="7.4" text-anchor="end" font-weight="bold" fill="#000"  >-1.5</text>
<line x1="28.70" y1="349.80" x2="32.80" y2="349.80" stroke="#000" stroke-width="0.8" />
<text x="27.20" y="352.45" font-size="7.4" text-anchor="end" font-weight="bold" fill="#000"  >-2.0</text>
<line x1="32.80" y1="250.60" x2="32.80" y2="350.20" stroke="#000" stroke-width="0.9" />
<line x1="32.40" y1="349.80" x2="181.60" y2="349.80" stroke="#000" stroke-width="0.9" />
<line x1="32.80" y1="300.40" x2="182.00" y2="300.40" stroke="#000" stroke-width="0.9" />
<text transform="translate(8.11,300.3) rotate(-90)" font-size="8.4" text-anchor="middle" font-weight="bold">Log<tspan font-size="5.6" dy="2.1">2</tspan><tspan dy="-2.1"> (FC)</tspan></text>
<line x1="39.60" y1="303.00" x2="39.60" y2="310.00" stroke="#000" stroke-width="0.6" />
<line x1="38.00" y1="310.00" x2="41.20" y2="310.00" stroke="#000" stroke-width="0.6" />
<rect x="36.75" y="300.40" width="5.70" height="4.15" fill="#92e292" stroke="#000" stroke-width="0.9" />
<line x1="49.90" y1="311.60" x2="49.90" y2="318.00" stroke="#000" stroke-width="0.6" />
<line x1="48.30" y1="318.00" x2="51.50" y2="318.00" stroke="#000" stroke-width="0.6" />
<rect x="47.05" y="300.40" width="5.70" height="12.75" fill="#4fa24f" stroke="#000" stroke-width="0.9" />
<text x="49.90" y="325.45" font-size="6.4" text-anchor="middle" fill="#111">*</text>
<line x1="60.20" y1="311.60" x2="60.20" y2="317.00" stroke="#000" stroke-width="0.6" />
<line x1="58.60" y1="317.00" x2="61.80" y2="317.00" stroke="#000" stroke-width="0.6" />
<rect x="57.35" y="300.40" width="5.70" height="12.75" fill="#1f5b2a" stroke="#000" stroke-width="0.9" />
<text x="60.20" y="324.85" font-size="6.4" text-anchor="middle" fill="#111">*</text>
<line x1="50.00" y1="349.80" x2="50.00" y2="353.20" stroke="#000" stroke-width="0.8" />
<text x="50.00" y="362.88" font-size="7.5" text-anchor="middle" font-weight="bold" fill="#000"  >CUTO8</text>
<line x1="77.60" y1="307.00" x2="77.60" y2="313.40" stroke="#000" stroke-width="0.6" />
<line x1="76.00" y1="313.40" x2="79.20" y2="313.40" stroke="#000" stroke-width="0.6" />
<rect x="74.75" y="300.40" width="5.70" height="8.15" fill="#92e292" stroke="#000" stroke-width="0.9" />
<line x1="87.90" y1="305.00" x2="87.90" y2="311.00" stroke="#000" stroke-width="0.6" />
<line x1="86.30" y1="311.00" x2="89.50" y2="311.00" stroke="#000" stroke-width="0.6" />
<rect x="85.05" y="300.40" width="5.70" height="6.15" fill="#4fa24f" stroke="#000" stroke-width="0.9" />
<line x1="98.20" y1="302.40" x2="98.20" y2="309.40" stroke="#000" stroke-width="0.6" />
<line x1="96.60" y1="309.40" x2="99.80" y2="309.40" stroke="#000" stroke-width="0.6" />
<rect x="95.35" y="300.40" width="5.70" height="3.55" fill="#1f5b2a" stroke="#000" stroke-width="0.9" />
<line x1="88.00" y1="349.80" x2="88.00" y2="353.20" stroke="#000" stroke-width="0.8" />
<text x="88.00" y="362.88" font-size="7.5" text-anchor="middle" font-weight="bold" fill="#000"  >CUTO9</text>
<line x1="115.40" y1="318.00" x2="115.40" y2="325.00" stroke="#000" stroke-width="0.6" />
<line x1="113.80" y1="325.00" x2="117.00" y2="325.00" stroke="#000" stroke-width="0.6" />
<rect x="112.55" y="300.40" width="5.70" height="19.15" fill="#92e292" stroke="#000" stroke-width="0.9" />
<text x="115.40" y="331.05" font-size="6.4" text-anchor="middle" fill="#111">*</text>
<line x1="125.70" y1="311.60" x2="125.70" y2="321.00" stroke="#000" stroke-width="0.6" />
<line x1="124.10" y1="321.00" x2="127.30" y2="321.00" stroke="#000" stroke-width="0.6" />
<rect x="122.85" y="300.40" width="5.70" height="12.75" fill="#4fa24f" stroke="#000" stroke-width="0.9" />
<text x="125.70" y="325.65" font-size="6.4" text-anchor="middle" fill="#111">*</text>
<line x1="136.00" y1="316.40" x2="136.00" y2="324.00" stroke="#000" stroke-width="0.6" />
<line x1="134.40" y1="324.00" x2="137.60" y2="324.00" stroke="#000" stroke-width="0.6" />
<rect x="133.15" y="300.40" width="5.70" height="17.55" fill="#1f5b2a" stroke="#000" stroke-width="0.9" />
<text x="136.00" y="329.65" font-size="6.4" text-anchor="middle" fill="#111">*</text>
<line x1="125.80" y1="349.80" x2="125.80" y2="353.20" stroke="#000" stroke-width="0.8" />
<text x="125.80" y="362.88" font-size="7.5" text-anchor="middle" font-weight="bold" fill="#000"  >CUTO29</text>
<line x1="164.10" y1="308.40" x2="164.10" y2="316.00" stroke="#000" stroke-width="0.6" />
<line x1="162.50" y1="316.00" x2="165.70" y2="316.00" stroke="#000" stroke-width="0.6" />
<rect x="161.25" y="300.40" width="5.70" height="9.55" fill="#4fa24f" stroke="#000" stroke-width="0.9" />
<text x="164.10" y="322.05" font-size="6.4" text-anchor="middle" fill="#111">*</text>
<line x1="174.40" y1="308.40" x2="174.40" y2="316.00" stroke="#000" stroke-width="0.6" />
<line x1="172.80" y1="316.00" x2="176.00" y2="316.00" stroke="#000" stroke-width="0.6" />
<rect x="171.55" y="300.40" width="5.70" height="9.55" fill="#1f5b2a" stroke="#000" stroke-width="0.9" />
<text x="174.40" y="322.05" font-size="6.4" text-anchor="middle" fill="#111">*</text>
<line x1="164.20" y1="349.80" x2="164.20" y2="353.20" stroke="#000" stroke-width="0.8" />
<text x="164.20" y="362.88" font-size="7.5" text-anchor="middle" font-weight="bold" fill="#000"  >YU1077</text>
<rect x="195.20" y="254.45" width="10.50" height="5.50" fill="#92e292" stroke="#000" stroke-width="0.9" />
<text x="212.00" y="260.06" font-size="8.0" text-anchor="start" font-weight="normal" fill="#000" stroke="#000" stroke-width="0.15"  >Alectinib</text>
<rect x="195.20" y="268.05" width="10.50" height="5.50" fill="#4fa24f" stroke="#000" stroke-width="0.9" />
<text x="212.00" y="273.66" font-size="8.0" text-anchor="start" font-weight="normal" fill="#000" stroke="#000" stroke-width="0.15"  >Brigatinib</text>
<rect x="195.20" y="281.65" width="10.50" height="5.50" fill="#1f5b2a" stroke="#000" stroke-width="0.9" />
<text x="212.00" y="287.26" font-size="8.0" text-anchor="start" font-weight="normal" fill="#000" stroke="#000" stroke-width="0.15"  >Lorlatinib</text>
<defs><clipPath id="cin"><path d="M 273.6 282 C 273.6 271 285 261.2 301 257.8 C 313 255.4 330 254.8 344 256.9 C 360 260 374.6 270 374.6 284 C 374.6 292 368 297.2 358 297.2 C 346 297.2 333 289.6 321 289.6 C 309 289.6 299 295 288 297.2 C 279 298.6 273.4 292 273.4 282 Z"/></clipPath><g id="mito"><path d="M 268.5 282 C 268.5 268 282 257 300 253 C 312 250.6 330 250.2 345 252.5 C 362 255.5 379.6 266 379.6 284 C 379.6 296 370 302 358 302 C 345 302 332 294 321 294 C 310 294 300 300 288 302 C 276 303.5 268.5 295 268.5 282 Z" fill="#c98a80" stroke="#5e2e2a" stroke-width="0.8"/><path d="M 273.6 282 C 273.6 271 285 261.2 301 257.8 C 313 255.4 330 254.8 344 256.9 C 360 260 374.6 270 374.6 284 C 374.6 292 368 297.2 358 297.2 C 346 297.2 333 289.6 321 289.6 C 309 289.6 299 295 288 297.2 C 279 298.6 273.4 292 273.4 282 Z" fill="#e9d9d6" stroke="#5e2e2a" stroke-width="0.6"/><g clip-path="url(#cin)" fill="#c98a80" stroke="#5e2e2a" stroke-width="0.6" stroke-linejoin="round"><path d="M 274.83 265.82 L 282.55 280.91 A 2.15 2.15 0 0 0 286.45 279.09 L 279.91 263.46 Z"/><path d="M 290.97 257.05 L 294.99 274.60 A 2.15 2.15 0 0 0 299.21 273.80 L 296.47 256.00 Z"/><path d="M 306.32 253.90 L 309.47 271.80 A 2.15 2.15 0 0 0 313.73 271.20 L 311.87 253.13 Z"/><path d="M 317.70 252.50 L 318.35 261.50 A 2.15 2.15 0 0 0 322.65 261.50 L 323.30 252.50 Z"/><path d="M 329.10 252.50 L 329.75 271.90 A 2.15 2.15 0 0 0 334.05 271.90 L 334.70 252.50 Z"/><path d="M 344.36 254.23 L 343.36 270.79 A 2.15 2.15 0 0 0 347.64 271.21 L 349.94 254.79 Z"/><path d="M 354.55 256.98 L 350.59 280.08 A 2.15 2.15 0 0 0 354.81 280.92 L 360.04 258.08 Z"/><path d="M 369.52 265.19 L 362.62 276.60 A 2.15 2.15 0 0 0 366.18 279.00 L 374.16 268.32 Z"/><path d="M 274.54 295.13 L 282.62 287.99 A 2.15 2.15 0 0 0 279.98 284.61 L 271.09 290.72 Z"/><path d="M 293.20 301.50 L 292.55 284.00 A 2.15 2.15 0 0 0 288.25 284.00 L 287.60 301.50 Z"/><path d="M 301.38 300.34 L 300.15 289.88 A 2.15 2.15 0 0 0 295.85 290.12 L 295.79 300.65 Z"/><path d="M 306.67 299.55 L 306.45 276.04 A 2.15 2.15 0 0 0 302.15 275.96 L 301.07 299.45 Z"/><path d="M 323.30 295.50 L 322.65 270.50 A 2.15 2.15 0 0 0 318.35 270.50 L 317.70 295.50 Z"/><path d="M 333.80 295.50 L 333.15 281.40 A 2.15 2.15 0 0 0 328.85 281.40 L 328.20 295.50 Z"/><path d="M 346.90 299.50 L 346.25 279.10 A 2.15 2.15 0 0 0 341.95 279.10 L 341.30 299.50 Z"/><path d="M 357.70 301.50 L 357.05 286.80 A 2.15 2.15 0 0 0 352.75 286.80 L 352.10 301.50 Z"/><path d="M 371.51 299.02 L 368.32 283.75 A 2.15 2.15 0 0 0 364.08 284.45 L 365.98 299.94 Z"/></g></g></defs>
<use href="#mito" x="0" y="0"/>
<circle cx="292.30" cy="259.00" r="1.5" fill="#ece22c"/>
<circle cx="309.50" cy="256.50" r="1.5" fill="#ece22c"/>
<circle cx="332.30" cy="264.80" r="1.5" fill="#ece22c"/>
<circle cx="348.00" cy="259.00" r="1.5" fill="#ece22c"/>
<circle cx="282.20" cy="277.50" r="1.5" fill="#ece22c"/>
<circle cx="321.00" cy="275.20" r="1.5" fill="#ece22c"/>
<circle cx="329.70" cy="291.80" r="1.5" fill="#ece22c"/>
<circle cx="289.80" cy="298.50" r="1.5" fill="#ece22c"/>
<circle cx="369.80" cy="294.00" r="1.5" fill="#ece22c"/>
<use href="#mito" x="143" y="0"/>
<circle cx="435.30" cy="259.00" r="1.5" fill="#ece22c"/>
<circle cx="452.50" cy="256.50" r="1.5" fill="#ece22c"/>
<circle cx="475.30" cy="264.80" r="1.5" fill="#ece22c"/>
<circle cx="491.00" cy="259.00" r="1.5" fill="#ece22c"/>
<circle cx="425.20" cy="277.50" r="1.5" fill="#ece22c"/>
<circle cx="464.00" cy="275.20" r="1.5" fill="#ece22c"/>
<circle cx="472.70" cy="291.80" r="1.5" fill="#ece22c"/>
<circle cx="432.80" cy="298.50" r="1.5" fill="#ece22c"/>
<circle cx="512.80" cy="294.00" r="1.5" fill="#ece22c"/>
<use href="#mito" x="287.5" y="0"/>
<line x1="277.00" y1="255.50" x2="283.00" y2="262.50" stroke="#b9c1c5" stroke-width="2.6"/>
<line x1="320.50" y1="244.00" x2="320.50" y2="255.00" stroke="#b9c1c5" stroke-width="2.6"/>
<line x1="278.00" y1="297.00" x2="272.50" y2="304.00" stroke="#b9c1c5" stroke-width="2.6"/>
<line x1="321.00" y1="293.00" x2="321.50" y2="302.50" stroke="#b9c1c5" stroke-width="2.6"/>
<line x1="366.00" y1="264.00" x2="371.00" y2="257.50" stroke="#b9c1c5" stroke-width="2.6"/>
<line x1="377.70" y1="282.70" x2="387.20" y2="280.80" stroke="#b9c1c5" stroke-width="2.6"/>
<line x1="351.00" y1="300.00" x2="354.00" y2="310.00" stroke="#b9c1c5" stroke-width="2.6"/>
<path d="M 306.95 247.24 A 4.5 4.5 0 0 1 298.12 248.79" fill="none" stroke="#4f7fd2" stroke-width="2.3" stroke-linecap="butt"/>
<circle cx="302.60" cy="248.40" r="2.45" fill="#4cb54c" stroke="#2c7a2c" stroke-width="0.5"/>
<path d="M 267.89 270.23 A 4.5 4.5 0 0 1 263.82 278.22" fill="none" stroke="#4f7fd2" stroke-width="2.3" stroke-linecap="butt"/>
<circle cx="266.20" cy="274.40" r="2.45" fill="#4cb54c" stroke="#2c7a2c" stroke-width="0.5"/>
<path d="M 302.54 304.62 A 4.5 4.5 0 0 1 310.60 300.69" fill="none" stroke="#4f7fd2" stroke-width="2.3" stroke-linecap="butt"/>
<circle cx="306.40" cy="302.30" r="2.45" fill="#4cb54c" stroke="#2c7a2c" stroke-width="0.5"/>
<path d="M 344.25 249.47 A 4.5 4.5 0 0 1 336.06 245.82" fill="none" stroke="#4f7fd2" stroke-width="2.3" stroke-linecap="butt"/>
<circle cx="340.00" cy="248.00" r="2.45" fill="#4cb54c" stroke="#2c7a2c" stroke-width="0.5"/>
<path d="M 380.11 295.17 A 4.5 4.5 0 0 1 384.18 287.18" fill="none" stroke="#4f7fd2" stroke-width="2.3" stroke-linecap="butt"/>
<circle cx="381.80" cy="291.00" r="2.45" fill="#4cb54c" stroke="#2c7a2c" stroke-width="0.5"/>
<line x1="420.00" y1="255.50" x2="426.00" y2="262.50" stroke="#b9c1c5" stroke-width="2.6"/>
<line x1="463.50" y1="244.00" x2="463.50" y2="255.00" stroke="#b9c1c5" stroke-width="2.6"/>
<line x1="421.00" y1="297.00" x2="415.50" y2="304.00" stroke="#b9c1c5" stroke-width="2.6"/>
<line x1="464.00" y1="293.00" x2="464.50" y2="302.50" stroke="#b9c1c5" stroke-width="2.6"/>
<line x1="509.00" y1="264.00" x2="514.00" y2="257.50" stroke="#b9c1c5" stroke-width="2.6"/>
<line x1="520.70" y1="282.70" x2="530.20" y2="280.80" stroke="#b9c1c5" stroke-width="2.6"/>
<line x1="494.00" y1="300.00" x2="497.00" y2="310.00" stroke="#b9c1c5" stroke-width="2.6"/>
<path d="M 449.95 247.24 A 4.5 4.5 0 0 1 441.12 248.79" fill="none" stroke="#4f7fd2" stroke-width="2.3" stroke-linecap="butt"/>
<circle cx="445.60" cy="248.40" r="2.1" fill="#e23c3c" stroke="#b03030" stroke-width="0.5"/>
<path d="M 410.89 270.23 A 4.5 4.5 0 0 1 406.82 278.22" fill="none" stroke="#4f7fd2" stroke-width="2.3" stroke-linecap="butt"/>
<circle cx="409.20" cy="274.40" r="2.1" fill="#e23c3c" stroke="#b03030" stroke-width="0.5"/>
<path d="M 445.54 304.62 A 4.5 4.5 0 0 1 453.60 300.69" fill="none" stroke="#4f7fd2" stroke-width="2.3" stroke-linecap="butt"/>
<circle cx="449.40" cy="302.30" r="2.1" fill="#e23c3c" stroke="#b03030" stroke-width="0.5"/>
<path d="M 487.25 249.47 A 4.5 4.5 0 0 1 479.06 245.82" fill="none" stroke="#4f7fd2" stroke-width="2.3" stroke-linecap="butt"/>
<circle cx="483.00" cy="248.00" r="2.1" fill="#e23c3c" stroke="#b03030" stroke-width="0.5"/>
<path d="M 523.11 295.17 A 4.5 4.5 0 0 1 527.18 287.18" fill="none" stroke="#4f7fd2" stroke-width="2.3" stroke-linecap="butt"/>
<circle cx="524.80" cy="291.00" r="2.1" fill="#e23c3c" stroke="#b03030" stroke-width="0.5"/>
<line x1="608.40" y1="240.30" x2="608.40" y2="252.40" stroke="#b9c1c5" stroke-width="2.6"/>
<line x1="564.50" y1="294.50" x2="558.70" y2="300.90" stroke="#b9c1c5" stroke-width="2.6"/>
<line x1="605.40" y1="293.00" x2="606.10" y2="302.40" stroke="#b9c1c5" stroke-width="2.6"/>
<line x1="665.70" y1="277.70" x2="674.90" y2="277.30" stroke="#b9c1c5" stroke-width="2.6"/>
<line x1="564.50" y1="255.20" x2="571.60" y2="263.60" stroke="#b9c1c5" stroke-width="5.2"/>
<line x1="649.70" y1="262.50" x2="655.00" y2="254.80" stroke="#b9c1c5" stroke-width="5.2"/>
<line x1="635.20" y1="297.60" x2="637.50" y2="308.30" stroke="#b9c1c5" stroke-width="5.2"/>
<path d="M 594.65 247.44 A 4.5 4.5 0 0 1 585.82 248.99" fill="none" stroke="#4f7fd2" stroke-width="2.3" stroke-linecap="butt"/>
<circle cx="590.30" cy="248.60" r="3.0" fill="#f34ff3" />
<path d="M 554.86 269.85 A 4.5 4.5 0 0 1 551.80 278.28" fill="none" stroke="#4f7fd2" stroke-width="2.3" stroke-linecap="butt"/>
<circle cx="553.70" cy="274.20" r="3.0" fill="#f34ff3" />
<path d="M 589.92 303.90 A 4.5 4.5 0 0 1 598.35 300.84" fill="none" stroke="#4f7fd2" stroke-width="2.3" stroke-linecap="butt"/>
<circle cx="594.00" cy="302.00" r="3.0" fill="#f34ff3" />
<path d="M 631.95 249.27 A 4.5 4.5 0 0 1 623.76 245.62" fill="none" stroke="#4f7fd2" stroke-width="2.3" stroke-linecap="butt"/>
<circle cx="627.70" cy="247.80" r="3.0" fill="#f34ff3" />
<path d="M 668.74 294.95 A 4.5 4.5 0 0 1 671.80 286.52" fill="none" stroke="#4f7fd2" stroke-width="2.3" stroke-linecap="butt"/>
<circle cx="669.90" cy="290.60" r="3.0" fill="#f34ff3" />
<circle cx="606.20" cy="242.40" r="1.8" fill="#d83a3a" stroke="#a83030" stroke-width="0.5"/>
<circle cx="561.60" cy="302.60" r="1.8" fill="#d83a3a" stroke="#a83030" stroke-width="0.5"/>
<circle cx="607.60" cy="300.20" r="1.8" fill="#d83a3a" stroke="#a83030" stroke-width="0.5"/>
<circle cx="670.30" cy="274.70" r="1.8" fill="#d83a3a" stroke="#a83030" stroke-width="0.5"/>
<circle cx="548.00" cy="248.10" r="1.3" fill="#ecdc2c" />
<circle cx="554.80" cy="240.00" r="1.3" fill="#ecdc2c" />
<circle cx="565.10" cy="238.70" r="1.3" fill="#ecdc2c" />
<circle cx="563.40" cy="248.70" r="1.3" fill="#ecdc2c" />
<circle cx="663.10" cy="230.40" r="1.3" fill="#ecdc2c" />
<circle cx="681.80" cy="230.40" r="1.3" fill="#ecdc2c" />
<circle cx="656.60" cy="241.50" r="1.3" fill="#ecdc2c" />
<circle cx="673.40" cy="246.40" r="1.3" fill="#ecdc2c" />
<circle cx="635.20" cy="316.00" r="1.3" fill="#ecdc2c" />
<circle cx="645.40" cy="311.70" r="1.3" fill="#ecdc2c" />
<circle cx="646.00" cy="323.40" r="1.3" fill="#ecdc2c" />
<circle cx="658.10" cy="318.80" r="1.3" fill="#ecdc2c" />
<line x1="324.00" y1="307.60" x2="324.00" y2="325.00" stroke="#444" stroke-width="0.8" />
<path d="M 322.40 324.2 L 325.60 324.2 L 324.00 327.2 Z" fill="#444"/>
<line x1="467.00" y1="307.60" x2="467.00" y2="325.00" stroke="#444" stroke-width="0.8" />
<path d="M 465.40 324.2 L 468.60 324.2 L 467.00 327.2 Z" fill="#444"/>
<line x1="611.60" y1="307.60" x2="611.60" y2="325.00" stroke="#444" stroke-width="0.8" />
<path d="M 610.00 324.2 L 613.20 324.2 L 611.60 327.2 Z" fill="#444"/>
<text x="324.00" y="338.32" font-size="8.15" text-anchor="middle" font-weight="bold" fill="#000"  >Cell survival</text>
<text x="469.50" y="338.34" font-size="8.2" text-anchor="middle" font-weight="bold" fill="#000"  >Apoptotic cell death protection</text>
<text x="613.60" y="338.34" font-size="8.2" text-anchor="middle" font-weight="bold" fill="#000"  >Apoptotic cell death</text>
<text x="321.10" y="219.13" font-size="8.75" text-anchor="middle" font-weight="bold" fill="#111"  >Basal condition</text>
<line x1="288.20" y1="220.40" x2="354.00" y2="220.40" stroke="#8a8a8a" stroke-width="1.0" />
<text x="461.20" y="219.13" font-size="8.75" text-anchor="middle" font-weight="bold" fill="#111"  >ALK inhibitor</text>
<line x1="433.20" y1="220.40" x2="489.20" y2="220.40" stroke="#8a8a8a" stroke-width="1.0" />
<text x="609.10" y="219.13" font-size="8.75" text-anchor="middle" font-weight="bold" fill="#111"  >ALK inhibitor + S63845</text>
<line x1="561.00" y1="220.40" x2="657.40" y2="220.40" stroke="#8a8a8a" stroke-width="1.0" />
<circle cx="283.90" cy="353.60" r="1.9" fill="#e04545" />
<text x="297.60" y="355.76" font-size="6.6" text-anchor="start" font-weight="bold" fill="#000"  >BIM</text>
<circle cx="284.50" cy="371.50" r="2.45" fill="#4cb54c" stroke="#2c7a2c" stroke-width="0.5"/>
<text x="297.60" y="373.76" font-size="6.6" text-anchor="start" font-weight="bold" fill="#000"  >NOXA</text>
<path d="M 391.48 352.03 A 4.3 4.3 0 0 1 382.92 352.03" fill="none" stroke="#4f7fd2" stroke-width="2.4" stroke-linecap="butt"/>
<text x="402.00" y="355.36" font-size="6.6" text-anchor="start" font-weight="bold" fill="#000"  >MCL-1</text>
<line x1="387.60" y1="367.00" x2="387.60" y2="376.60" stroke="#b9c1c5" stroke-width="2.8"/>
<text x="402.60" y="373.76" font-size="6.6" text-anchor="start" font-weight="bold" fill="#000"  >Inactive BAX/BAK</text>
<circle cx="502.40" cy="353.60" r="1.2" fill="#f2e234" />
<text x="516.00" y="355.36" font-size="6.6" text-anchor="start" font-weight="bold" fill="#000"  >Cytochrome c</text>
<line x1="502.80" y1="366.00" x2="502.80" y2="376.60" stroke="#b9c1c5" stroke-width="5.4"/>
<text x="517.00" y="373.56" font-size="6.6" text-anchor="start" font-weight="bold" fill="#000"  >Active BAX/BAK</text>
<circle cx="593.40" cy="354.40" r="2.7" fill="#f050f0" />
<text x="606.60" y="355.36" font-size="6.6" text-anchor="start" font-weight="bold" fill="#000"  >S63845</text>
<text x="96.60" y="429.05" font-size="8.8" text-anchor="middle" font-weight="bold" fill="#000"  >H3122</text>
<line x1="24.90" y1="530.50" x2="28.90" y2="530.50" stroke="#000" stroke-width="0.8" />
<text x="23.90" y="532.79" font-size="6.4" text-anchor="end" font-weight="bold" fill="#000"  >0</text>
<line x1="24.90" y1="512.52" x2="28.90" y2="512.52" stroke="#000" stroke-width="0.8" />
<text x="23.90" y="514.81" font-size="6.4" text-anchor="end" font-weight="bold" fill="#000"  >20</text>
<line x1="24.90" y1="494.54" x2="28.90" y2="494.54" stroke="#000" stroke-width="0.8" />
<text x="23.90" y="496.83" font-size="6.4" text-anchor="end" font-weight="bold" fill="#000"  >40</text>
<line x1="24.90" y1="476.56" x2="28.90" y2="476.56" stroke="#000" stroke-width="0.8" />
<text x="23.90" y="478.85" font-size="6.4" text-anchor="end" font-weight="bold" fill="#000"  >60</text>
<line x1="24.90" y1="458.58" x2="28.90" y2="458.58" stroke="#000" stroke-width="0.8" />
<text x="23.90" y="460.87" font-size="6.4" text-anchor="end" font-weight="bold" fill="#000"  >80</text>
<line x1="24.90" y1="440.60" x2="28.90" y2="440.60" stroke="#000" stroke-width="0.8" />
<text x="23.90" y="442.89" font-size="6.4" text-anchor="end" font-weight="bold" fill="#000"  >100</text>
<line x1="28.90" y1="440.20" x2="28.90" y2="530.90" stroke="#000" stroke-width="0.9" />
<line x1="28.50" y1="530.50" x2="163.75" y2="530.50" stroke="#000" stroke-width="0.9" />
<text transform="translate(8.77,485.70) rotate(-90)" font-size="7.45" text-anchor="middle" font-weight="bold" fill="#000">% Cell death</text>
<line x1="36.45" y1="521.10" x2="36.45" y2="517.40" stroke="#000" stroke-width="0.7" />
<line x1="34.95" y1="517.40" x2="37.95" y2="517.40" stroke="#000" stroke-width="0.7" />
<rect x="33.65" y="519.60" width="5.60" height="10.90" fill="#d9d9d9" stroke="#000" stroke-width="1.0" />
<line x1="36.45" y1="530.50" x2="36.45" y2="534.10" stroke="#000" stroke-width="0.8" />
<text transform="translate(39.03,536.00) rotate(-90)" font-size="7.2" text-anchor="end" font-weight="normal" fill="#000" stroke="#000" stroke-width="0.15">CTL</text>
<line x1="47.40" y1="511.20" x2="47.40" y2="507.60" stroke="#000" stroke-width="0.7" />
<line x1="45.90" y1="507.60" x2="48.90" y2="507.60" stroke="#000" stroke-width="0.7" />
<rect x="44.60" y="509.70" width="5.60" height="20.80" fill="#d9d9d9" stroke="#000" stroke-width="1.0" />
<line x1="47.40" y1="530.50" x2="47.40" y2="534.10" stroke="#000" stroke-width="0.8" />
<text transform="translate(49.97,536.00) rotate(-90)" font-size="7.2" text-anchor="end" font-weight="normal" fill="#000" stroke="#000" stroke-width="0.15">Crizotinib</text>
<line x1="58.34" y1="525.20" x2="58.34" y2="522.70" stroke="#000" stroke-width="0.7" />
<line x1="56.84" y1="522.70" x2="59.84" y2="522.70" stroke="#000" stroke-width="0.7" />
<rect x="55.54" y="523.70" width="5.60" height="6.80" fill="#a6a6a8" stroke="#000" stroke-width="1.0" />
<line x1="58.34" y1="530.50" x2="58.34" y2="534.10" stroke="#000" stroke-width="0.8" />
<text transform="translate(60.92,536.00) rotate(-90)" font-size="7.2" text-anchor="end" font-weight="normal" fill="#000" stroke="#000" stroke-width="0.15">ABT-199</text>
<line x1="69.28" y1="510.60" x2="69.28" y2="505.30" stroke="#000" stroke-width="0.7" />
<line x1="67.78" y1="505.30" x2="70.78" y2="505.30" stroke="#000" stroke-width="0.7" />
<rect x="66.48" y="509.10" width="5.60" height="21.40" fill="#a6a6a8" stroke="#000" stroke-width="1.0" />
<line x1="69.28" y1="530.50" x2="69.28" y2="534.10" stroke="#000" stroke-width="0.8" />
<text transform="translate(71.86,536.00) rotate(-90)" font-size="7.2" text-anchor="end" font-weight="normal" fill="#000" stroke="#000" stroke-width="0.15">Crizotinib -&gt; ABT-199</text>
<line x1="80.23" y1="526.00" x2="80.23" y2="523.20" stroke="#000" stroke-width="0.7" />
<line x1="78.73" y1="523.20" x2="81.73" y2="523.20" stroke="#000" stroke-width="0.7" />
<rect x="77.43" y="524.50" width="5.60" height="6.00" fill="#636363" stroke="#000" stroke-width="1.0" />
<line x1="80.23" y1="530.50" x2="80.23" y2="534.10" stroke="#000" stroke-width="0.8" />
<text transform="translate(82.81,536.00) rotate(-90)" font-size="7.2" text-anchor="end" font-weight="normal" fill="#000" stroke="#000" stroke-width="0.15">A-133</text>
<line x1="91.18" y1="515.00" x2="91.18" y2="512.50" stroke="#000" stroke-width="0.7" />
<line x1="89.68" y1="512.50" x2="92.68" y2="512.50" stroke="#000" stroke-width="0.7" />
<rect x="88.38" y="513.50" width="5.60" height="17.00" fill="#636363" stroke="#000" stroke-width="1.0" />
<line x1="91.18" y1="530.50" x2="91.18" y2="534.10" stroke="#000" stroke-width="0.8" />
<text transform="translate(93.75,536.00) rotate(-90)" font-size="7.2" text-anchor="end" font-weight="normal" fill="#000" stroke="#000" stroke-width="0.15">Crizotinib -&gt; A-133</text>
<line x1="102.12" y1="516.90" x2="102.12" y2="510.90" stroke="#000" stroke-width="0.7" />
<line x1="100.62" y1="510.90" x2="103.62" y2="510.90" stroke="#000" stroke-width="0.7" />
<rect x="99.32" y="515.40" width="5.60" height="15.10" fill="#636363" stroke="#000" stroke-width="1.0" />
<line x1="102.12" y1="530.50" x2="102.12" y2="534.10" stroke="#000" stroke-width="0.8" />
<text transform="translate(104.70,536.00) rotate(-90)" font-size="7.2" text-anchor="end" font-weight="normal" fill="#000" stroke="#000" stroke-width="0.15">DT2216</text>
<line x1="113.07" y1="506.00" x2="113.07" y2="502.50" stroke="#000" stroke-width="0.7" />
<line x1="111.57" y1="502.50" x2="114.57" y2="502.50" stroke="#000" stroke-width="0.7" />
<rect x="110.27" y="504.50" width="5.60" height="26.00" fill="#636363" stroke="#000" stroke-width="1.0" />
<line x1="113.07" y1="530.50" x2="113.07" y2="534.10" stroke="#000" stroke-width="0.8" />
<text transform="translate(115.64,536.00) rotate(-90)" font-size="7.2" text-anchor="end" font-weight="normal" fill="#000" stroke="#000" stroke-width="0.15">Crizotinib -&gt; DT2216</text>
<line x1="124.01" y1="523.30" x2="124.01" y2="519.10" stroke="#000" stroke-width="0.7" />
<line x1="122.51" y1="519.10" x2="125.51" y2="519.10" stroke="#000" stroke-width="0.7" />
<rect x="121.21" y="521.80" width="5.60" height="8.70" fill="#000" stroke="#000" stroke-width="1.0" />
<line x1="124.01" y1="530.50" x2="124.01" y2="534.10" stroke="#000" stroke-width="0.8" />
<text transform="translate(126.59,536.00) rotate(-90)" font-size="7.2" text-anchor="end" font-weight="normal" fill="#000" stroke="#000" stroke-width="0.15">S63845</text>
<line x1="134.95" y1="492.80" x2="134.95" y2="486.20" stroke="#000" stroke-width="0.7" />
<line x1="133.45" y1="486.20" x2="136.45" y2="486.20" stroke="#000" stroke-width="0.7" />
<rect x="132.15" y="491.30" width="5.60" height="39.20" fill="#000" stroke="#000" stroke-width="1.0" />
<line x1="134.95" y1="530.50" x2="134.95" y2="534.10" stroke="#000" stroke-width="0.8" />
<text transform="translate(137.53,536.00) rotate(-90)" font-size="7.2" text-anchor="end" font-weight="normal" fill="#000" stroke="#000" stroke-width="0.15">Crizotinib -&gt; S63845</text>
<line x1="145.90" y1="502.20" x2="145.90" y2="496.20" stroke="#000" stroke-width="0.7" />
<line x1="144.40" y1="496.20" x2="147.40" y2="496.20" stroke="#000" stroke-width="0.7" />
<rect x="143.10" y="500.70" width="5.60" height="29.80" fill="#000" stroke="#000" stroke-width="1.0" />
<line x1="145.90" y1="530.50" x2="145.90" y2="534.10" stroke="#000" stroke-width="0.8" />
<text transform="translate(148.48,536.00) rotate(-90)" font-size="7.2" text-anchor="end" font-weight="normal" fill="#000" stroke="#000" stroke-width="0.15">Dinaciclib</text>
<line x1="156.85" y1="484.00" x2="156.85" y2="481.10" stroke="#000" stroke-width="0.7" />
<line x1="155.35" y1="481.10" x2="158.35" y2="481.10" stroke="#000" stroke-width="0.7" />
<rect x="154.05" y="482.50" width="5.60" height="48.00" fill="#000" stroke="#000" stroke-width="1.0" />
<line x1="156.85" y1="530.50" x2="156.85" y2="534.10" stroke="#000" stroke-width="0.8" />
<text transform="translate(159.42,536.00) rotate(-90)" font-size="7.2" text-anchor="end" font-weight="normal" fill="#000" stroke="#000" stroke-width="0.15">Crizotinib -&gt; Dinaciclib</text>
<text x="134.80" y="476.08" font-size="7.2" text-anchor="middle" font-weight="normal" fill="#222" stroke="#222" stroke-width="0.15"  >0.66</text>
<text x="134.80" y="484.65" font-size="7.4" text-anchor="middle" font-weight="normal" fill="#111"  >#</text>
<text x="156.70" y="469.88" font-size="7.2" text-anchor="middle" font-weight="normal" fill="#222" stroke="#222" stroke-width="0.15"  >0.92</text>
<text x="156.70" y="478.35" font-size="7.4" text-anchor="middle" font-weight="normal" fill="#111"  >#</text>
<line x1="54.14" y1="611.70" x2="73.98" y2="611.70" stroke="#000" stroke-width="1.2" />
<text x="64.11" y="619.90" font-size="6.7" text-anchor="middle" font-weight="bold" fill="#000"  >BCL-2</text>
<line x1="76.03" y1="611.70" x2="117.77" y2="611.70" stroke="#000" stroke-width="1.2" />
<text x="96.95" y="619.90" font-size="6.7" text-anchor="middle" font-weight="bold" fill="#000"  >BCL-xL</text>
<line x1="119.81" y1="611.70" x2="161.55" y2="611.70" stroke="#000" stroke-width="1.2" />
<text x="140.73" y="619.90" font-size="6.7" text-anchor="middle" font-weight="bold" fill="#000"  >MCL-1</text>
<text x="269.70" y="429.05" font-size="8.8" text-anchor="middle" font-weight="bold" fill="#000"  >H3122</text>
<line x1="198.00" y1="530.50" x2="202.00" y2="530.50" stroke="#000" stroke-width="0.8" />
<text x="197.00" y="532.79" font-size="6.4" text-anchor="end" font-weight="bold" fill="#000"  >0</text>
<line x1="198.00" y1="512.52" x2="202.00" y2="512.52" stroke="#000" stroke-width="0.8" />
<text x="197.00" y="514.81" font-size="6.4" text-anchor="end" font-weight="bold" fill="#000"  >20</text>
<line x1="198.00" y1="494.54" x2="202.00" y2="494.54" stroke="#000" stroke-width="0.8" />
<text x="197.00" y="496.83" font-size="6.4" text-anchor="end" font-weight="bold" fill="#000"  >40</text>
<line x1="198.00" y1="476.56" x2="202.00" y2="476.56" stroke="#000" stroke-width="0.8" />
<text x="197.00" y="478.85" font-size="6.4" text-anchor="end" font-weight="bold" fill="#000"  >60</text>
<line x1="198.00" y1="458.58" x2="202.00" y2="458.58" stroke="#000" stroke-width="0.8" />
<text x="197.00" y="460.87" font-size="6.4" text-anchor="end" font-weight="bold" fill="#000"  >80</text>
<line x1="198.00" y1="440.60" x2="202.00" y2="440.60" stroke="#000" stroke-width="0.8" />
<text x="197.00" y="442.89" font-size="6.4" text-anchor="end" font-weight="bold" fill="#000"  >100</text>
<line x1="202.00" y1="440.20" x2="202.00" y2="530.90" stroke="#000" stroke-width="0.9" />
<line x1="201.60" y1="530.50" x2="336.65" y2="530.50" stroke="#000" stroke-width="0.9" />
<text transform="translate(181.87,485.70) rotate(-90)" font-size="7.45" text-anchor="middle" font-weight="bold" fill="#000">% Cell death</text>
<line x1="209.35" y1="522.10" x2="209.35" y2="518.20" stroke="#000" stroke-width="0.7" />
<line x1="207.85" y1="518.20" x2="210.85" y2="518.20" stroke="#000" stroke-width="0.7" />
<rect x="206.55" y="520.60" width="5.60" height="9.90" fill="#d9d9d9" stroke="#000" stroke-width="1.0" />
<line x1="209.35" y1="530.50" x2="209.35" y2="534.10" stroke="#000" stroke-width="0.8" />
<text transform="translate(211.93,536.00) rotate(-90)" font-size="7.2" text-anchor="end" font-weight="normal" fill="#000" stroke="#000" stroke-width="0.15">CTL</text>
<line x1="220.29" y1="516.10" x2="220.29" y2="510.30" stroke="#000" stroke-width="0.7" />
<line x1="218.79" y1="510.30" x2="221.79" y2="510.30" stroke="#000" stroke-width="0.7" />
<rect x="217.49" y="514.60" width="5.60" height="15.90" fill="#d9d9d9" stroke="#000" stroke-width="1.0" />
<line x1="220.29" y1="530.50" x2="220.29" y2="534.10" stroke="#000" stroke-width="0.8" />
<text transform="translate(222.87,536.00) rotate(-90)" font-size="7.2" text-anchor="end" font-weight="normal" fill="#000" stroke="#000" stroke-width="0.15">Alectinib</text>
<line x1="231.24" y1="525.00" x2="231.24" y2="522.40" stroke="#000" stroke-width="0.7" />
<line x1="229.74" y1="522.40" x2="232.74" y2="522.40" stroke="#000" stroke-width="0.7" />
<rect x="228.44" y="523.50" width="5.60" height="7.00" fill="#a6a6a8" stroke="#000" stroke-width="1.0" />
<line x1="231.24" y1="530.50" x2="231.24" y2="534.10" stroke="#000" stroke-width="0.8" />
<text transform="translate(233.82,536.00) rotate(-90)" font-size="7.2" text-anchor="end" font-weight="normal" fill="#000" stroke="#000" stroke-width="0.15">ABT-199</text>
<line x1="242.19" y1="517.30" x2="242.19" y2="509.20" stroke="#000" stroke-width="0.7" />
<line x1="240.69" y1="509.20" x2="243.69" y2="509.20" stroke="#000" stroke-width="0.7" />
<rect x="239.38" y="515.80" width="5.60" height="14.70" fill="#a6a6a8" stroke="#000" stroke-width="1.0" />
<line x1="242.19" y1="530.50" x2="242.19" y2="534.10" stroke="#000" stroke-width="0.8" />
<text transform="translate(244.76,536.00) rotate(-90)" font-size="7.2" text-anchor="end" font-weight="normal" fill="#000" stroke="#000" stroke-width="0.15">Alectinib -&gt; ABT-199</text>
<line x1="253.13" y1="525.00" x2="253.13" y2="520.30" stroke="#000" stroke-width="0.7" />
<line x1="251.63" y1="520.30" x2="254.63" y2="520.30" stroke="#000" stroke-width="0.7" />
<rect x="250.33" y="523.50" width="5.60" height="7.00" fill="#636363" stroke="#000" stroke-width="1.0" />
<line x1="253.13" y1="530.50" x2="253.13" y2="534.10" stroke="#000" stroke-width="0.8" />
<text transform="translate(255.71,536.00) rotate(-90)" font-size="7.2" text-anchor="end" font-weight="normal" fill="#000" stroke="#000" stroke-width="0.15">A-133</text>
<line x1="264.07" y1="519.10" x2="264.07" y2="512.30" stroke="#000" stroke-width="0.7" />
<line x1="262.57" y1="512.30" x2="265.57" y2="512.30" stroke="#000" stroke-width="0.7" />
<rect x="261.27" y="517.60" width="5.60" height="12.90" fill="#636363" stroke="#000" stroke-width="1.0" />
<line x1="264.07" y1="530.50" x2="264.07" y2="534.10" stroke="#000" stroke-width="0.8" />
<text transform="translate(266.65,536.00) rotate(-90)" font-size="7.2" text-anchor="end" font-weight="normal" fill="#000" stroke="#000" stroke-width="0.15">Alectinib -&gt; A-133</text>
<line x1="275.02" y1="517.10" x2="275.02" y2="511.00" stroke="#000" stroke-width="0.7" />
<line x1="273.52" y1="511.00" x2="276.52" y2="511.00" stroke="#000" stroke-width="0.7" />
<rect x="272.22" y="515.60" width="5.60" height="14.90" fill="#636363" stroke="#000" stroke-width="1.0" />
<line x1="275.02" y1="530.50" x2="275.02" y2="534.10" stroke="#000" stroke-width="0.8" />
<text transform="translate(277.60,536.00) rotate(-90)" font-size="7.2" text-anchor="end" font-weight="normal" fill="#000" stroke="#000" stroke-width="0.15">DT2216</text>
<line x1="285.97" y1="513.20" x2="285.97" y2="509.60" stroke="#000" stroke-width="0.7" />
<line x1="284.47" y1="509.60" x2="287.47" y2="509.60" stroke="#000" stroke-width="0.7" />
<rect x="283.17" y="511.70" width="5.60" height="18.80" fill="#636363" stroke="#000" stroke-width="1.0" />
<line x1="285.97" y1="530.50" x2="285.97" y2="534.10" stroke="#000" stroke-width="0.8" />
<text transform="translate(288.54,536.00) rotate(-90)" font-size="7.2" text-anchor="end" font-weight="normal" fill="#000" stroke="#000" stroke-width="0.15">Alectinib -&gt; DT2216</text>
<line x1="296.91" y1="516.80" x2="296.91" y2="511.60" stroke="#000" stroke-width="0.7" />
<line x1="295.41" y1="511.60" x2="298.41" y2="511.60" stroke="#000" stroke-width="0.7" />
<rect x="294.11" y="515.30" width="5.60" height="15.20" fill="#000" stroke="#000" stroke-width="1.0" />
<line x1="296.91" y1="530.50" x2="296.91" y2="534.10" stroke="#000" stroke-width="0.8" />
<text transform="translate(299.49,536.00) rotate(-90)" font-size="7.2" text-anchor="end" font-weight="normal" fill="#000" stroke="#000" stroke-width="0.15">S63845</text>
<line x1="307.86" y1="484.60" x2="307.86" y2="475.80" stroke="#000" stroke-width="0.7" />
<line x1="306.36" y1="475.80" x2="309.36" y2="475.80" stroke="#000" stroke-width="0.7" />
<rect x="305.06" y="483.10" width="5.60" height="47.40" fill="#000" stroke="#000" stroke-width="1.0" />
<line x1="307.86" y1="530.50" x2="307.86" y2="534.10" stroke="#000" stroke-width="0.8" />
<text transform="translate(310.43,536.00) rotate(-90)" font-size="7.2" text-anchor="end" font-weight="normal" fill="#000" stroke="#000" stroke-width="0.15">Alectinib -&gt; S63845</text>
<line x1="318.80" y1="502.00" x2="318.80" y2="496.60" stroke="#000" stroke-width="0.7" />
<line x1="317.30" y1="496.60" x2="320.30" y2="496.60" stroke="#000" stroke-width="0.7" />
<rect x="316.00" y="500.50" width="5.60" height="30.00" fill="#000" stroke="#000" stroke-width="1.0" />
<line x1="318.80" y1="530.50" x2="318.80" y2="534.10" stroke="#000" stroke-width="0.8" />
<text transform="translate(321.38,536.00) rotate(-90)" font-size="7.2" text-anchor="end" font-weight="normal" fill="#000" stroke="#000" stroke-width="0.15">Dinaciclib</text>
<line x1="329.75" y1="489.70" x2="329.75" y2="481.90" stroke="#000" stroke-width="0.7" />
<line x1="328.25" y1="481.90" x2="331.25" y2="481.90" stroke="#000" stroke-width="0.7" />
<rect x="326.94" y="488.20" width="5.60" height="42.30" fill="#000" stroke="#000" stroke-width="1.0" />
<line x1="329.75" y1="530.50" x2="329.75" y2="534.10" stroke="#000" stroke-width="0.8" />
<text transform="translate(332.32,536.00) rotate(-90)" font-size="7.2" text-anchor="end" font-weight="normal" fill="#000" stroke="#000" stroke-width="0.15">Alectinib -&gt; Dinaciclib</text>
<text x="307.40" y="464.48" font-size="7.2" text-anchor="middle" font-weight="normal" fill="#222" stroke="#222" stroke-width="0.15"  >0.55</text>
<text x="307.40" y="473.15" font-size="7.4" text-anchor="middle" font-weight="normal" fill="#111"  >#</text>
<line x1="227.04" y1="611.70" x2="246.89" y2="611.70" stroke="#000" stroke-width="1.2" />
<text x="237.01" y="619.90" font-size="6.7" text-anchor="middle" font-weight="bold" fill="#000"  >BCL-2</text>
<line x1="248.93" y1="611.70" x2="290.67" y2="611.70" stroke="#000" stroke-width="1.2" />
<text x="269.85" y="619.90" font-size="6.7" text-anchor="middle" font-weight="bold" fill="#000"  >BCL-xL</text>
<line x1="292.71" y1="611.70" x2="334.44" y2="611.70" stroke="#000" stroke-width="1.2" />
<text x="313.63" y="619.90" font-size="6.7" text-anchor="middle" font-weight="bold" fill="#000"  >MCL-1</text>
<text x="442.70" y="429.05" font-size="8.8" text-anchor="middle" font-weight="bold" fill="#000"  >H3122</text>
<line x1="371.00" y1="530.50" x2="375.00" y2="530.50" stroke="#000" stroke-width="0.8" />
<text x="370.00" y="532.79" font-size="6.4" text-anchor="end" font-weight="bold" fill="#000"  >0</text>
<line x1="371.00" y1="512.52" x2="375.00" y2="512.52" stroke="#000" stroke-width="0.8" />
<text x="370.00" y="514.81" font-size="6.4" text-anchor="end" font-weight="bold" fill="#000"  >20</text>
<line x1="371.00" y1="494.54" x2="375.00" y2="494.54" stroke="#000" stroke-width="0.8" />
<text x="370.00" y="496.83" font-size="6.4" text-anchor="end" font-weight="bold" fill="#000"  >40</text>
<line x1="371.00" y1="476.56" x2="375.00" y2="476.56" stroke="#000" stroke-width="0.8" />
<text x="370.00" y="478.85" font-size="6.4" text-anchor="end" font-weight="bold" fill="#000"  >60</text>
<line x1="371.00" y1="458.58" x2="375.00" y2="458.58" stroke="#000" stroke-width="0.8" />
<text x="370.00" y="460.87" font-size="6.4" text-anchor="end" font-weight="bold" fill="#000"  >80</text>
<line x1="371.00" y1="440.60" x2="375.00" y2="440.60" stroke="#000" stroke-width="0.8" />
<text x="370.00" y="442.89" font-size="6.4" text-anchor="end" font-weight="bold" fill="#000"  >100</text>
<line x1="375.00" y1="440.20" x2="375.00" y2="530.90" stroke="#000" stroke-width="0.9" />
<line x1="374.60" y1="530.50" x2="509.69" y2="530.50" stroke="#000" stroke-width="0.9" />
<text transform="translate(354.87,485.70) rotate(-90)" font-size="7.45" text-anchor="middle" font-weight="bold" fill="#000">% Cell death</text>
<line x1="382.40" y1="521.50" x2="382.40" y2="517.10" stroke="#000" stroke-width="0.7" />
<line x1="380.90" y1="517.10" x2="383.90" y2="517.10" stroke="#000" stroke-width="0.7" />
<rect x="379.60" y="520.00" width="5.60" height="10.50" fill="#d9d9d9" stroke="#000" stroke-width="1.0" />
<line x1="382.40" y1="530.50" x2="382.40" y2="534.10" stroke="#000" stroke-width="0.8" />
<text transform="translate(384.98,536.00) rotate(-90)" font-size="7.2" text-anchor="end" font-weight="normal" fill="#000" stroke="#000" stroke-width="0.15">CTL</text>
<line x1="393.34" y1="499.30" x2="393.34" y2="494.20" stroke="#000" stroke-width="0.7" />
<line x1="391.84" y1="494.20" x2="394.84" y2="494.20" stroke="#000" stroke-width="0.7" />
<rect x="390.54" y="497.80" width="5.60" height="32.70" fill="#d9d9d9" stroke="#000" stroke-width="1.0" />
<line x1="393.34" y1="530.50" x2="393.34" y2="534.10" stroke="#000" stroke-width="0.8" />
<text transform="translate(395.92,536.00) rotate(-90)" font-size="7.2" text-anchor="end" font-weight="normal" fill="#000" stroke="#000" stroke-width="0.15">Brigatinib</text>
<line x1="404.29" y1="525.60" x2="404.29" y2="522.60" stroke="#000" stroke-width="0.7" />
<line x1="402.79" y1="522.60" x2="405.79" y2="522.60" stroke="#000" stroke-width="0.7" />
<rect x="401.49" y="524.10" width="5.60" height="6.40" fill="#a6a6a8" stroke="#000" stroke-width="1.0" />
<line x1="404.29" y1="530.50" x2="404.29" y2="534.10" stroke="#000" stroke-width="0.8" />
<text transform="translate(406.87,536.00) rotate(-90)" font-size="7.2" text-anchor="end" font-weight="normal" fill="#000" stroke="#000" stroke-width="0.15">ABT-199</text>
<line x1="415.23" y1="489.90" x2="415.23" y2="487.50" stroke="#000" stroke-width="0.7" />
<line x1="413.73" y1="487.50" x2="416.73" y2="487.50" stroke="#000" stroke-width="0.7" />
<rect x="412.43" y="488.40" width="5.60" height="42.10" fill="#a6a6a8" stroke="#000" stroke-width="1.0" />
<line x1="415.23" y1="530.50" x2="415.23" y2="534.10" stroke="#000" stroke-width="0.8" />
<text transform="translate(417.81,536.00) rotate(-90)" font-size="7.2" text-anchor="end" font-weight="normal" fill="#000" stroke="#000" stroke-width="0.15">Brigatinib -&gt; ABT-199</text>
<line x1="426.18" y1="527.30" x2="426.18" y2="524.90" stroke="#000" stroke-width="0.7" />
<line x1="424.68" y1="524.90" x2="427.68" y2="524.90" stroke="#000" stroke-width="0.7" />
<rect x="423.38" y="525.80" width="5.60" height="4.70" fill="#636363" stroke="#000" stroke-width="1.0" />
<line x1="426.18" y1="530.50" x2="426.18" y2="534.10" stroke="#000" stroke-width="0.8" />
<text transform="translate(428.76,536.00) rotate(-90)" font-size="7.2" text-anchor="end" font-weight="normal" fill="#000" stroke="#000" stroke-width="0.15">A-133</text>
<line x1="437.12" y1="488.60" x2="437.12" y2="482.20" stroke="#000" stroke-width="0.7" />
<line x1="435.62" y1="482.20" x2="438.62" y2="482.20" stroke="#000" stroke-width="0.7" />
<rect x="434.32" y="487.10" width="5.60" height="43.40" fill="#636363" stroke="#000" stroke-width="1.0" />
<line x1="437.12" y1="530.50" x2="437.12" y2="534.10" stroke="#000" stroke-width="0.8" />
<text transform="translate(439.70,536.00) rotate(-90)" font-size="7.2" text-anchor="end" font-weight="normal" fill="#000" stroke="#000" stroke-width="0.15">Brigatinib -&gt; A-133</text>
<line x1="448.07" y1="516.10" x2="448.07" y2="511.50" stroke="#000" stroke-width="0.7" />
<line x1="446.57" y1="511.50" x2="449.57" y2="511.50" stroke="#000" stroke-width="0.7" />
<rect x="445.27" y="514.60" width="5.60" height="15.90" fill="#636363" stroke="#000" stroke-width="1.0" />
<line x1="448.07" y1="530.50" x2="448.07" y2="534.10" stroke="#000" stroke-width="0.8" />
<text transform="translate(450.65,536.00) rotate(-90)" font-size="7.2" text-anchor="end" font-weight="normal" fill="#000" stroke="#000" stroke-width="0.15">DT2216</text>
<line x1="459.01" y1="501.10" x2="459.01" y2="494.50" stroke="#000" stroke-width="0.7" />
<line x1="457.51" y1="494.50" x2="460.51" y2="494.50" stroke="#000" stroke-width="0.7" />
<rect x="456.21" y="499.60" width="5.60" height="30.90" fill="#636363" stroke="#000" stroke-width="1.0" />
<line x1="459.01" y1="530.50" x2="459.01" y2="534.10" stroke="#000" stroke-width="0.8" />
<text transform="translate(461.59,536.00) rotate(-90)" font-size="7.2" text-anchor="end" font-weight="normal" fill="#000" stroke="#000" stroke-width="0.15">Brigatinib -&gt; DT2216</text>
<line x1="469.96" y1="520.90" x2="469.96" y2="516.30" stroke="#000" stroke-width="0.7" />
<line x1="468.46" y1="516.30" x2="471.46" y2="516.30" stroke="#000" stroke-width="0.7" />
<rect x="467.16" y="519.40" width="5.60" height="11.10" fill="#000" stroke="#000" stroke-width="1.0" />
<line x1="469.96" y1="530.50" x2="469.96" y2="534.10" stroke="#000" stroke-width="0.8" />
<text transform="translate(472.54,536.00) rotate(-90)" font-size="7.2" text-anchor="end" font-weight="normal" fill="#000" stroke="#000" stroke-width="0.15">S63845</text>
<line x1="480.90" y1="459.30" x2="480.90" y2="450.30" stroke="#000" stroke-width="0.7" />
<line x1="479.40" y1="450.30" x2="482.40" y2="450.30" stroke="#000" stroke-width="0.7" />
<rect x="478.10" y="457.80" width="5.60" height="72.70" fill="#000" stroke="#000" stroke-width="1.0" />
<line x1="480.90" y1="530.50" x2="480.90" y2="534.10" stroke="#000" stroke-width="0.8" />
<text transform="translate(483.48,536.00) rotate(-90)" font-size="7.2" text-anchor="end" font-weight="normal" fill="#000" stroke="#000" stroke-width="0.15">Brigatinib -&gt; S63845</text>
<line x1="491.85" y1="502.00" x2="491.85" y2="496.20" stroke="#000" stroke-width="0.7" />
<line x1="490.35" y1="496.20" x2="493.35" y2="496.20" stroke="#000" stroke-width="0.7" />
<rect x="489.05" y="500.50" width="5.60" height="30.00" fill="#000" stroke="#000" stroke-width="1.0" />
<line x1="491.85" y1="530.50" x2="491.85" y2="534.10" stroke="#000" stroke-width="0.8" />
<text transform="translate(494.43,536.00) rotate(-90)" font-size="7.2" text-anchor="end" font-weight="normal" fill="#000" stroke="#000" stroke-width="0.15">Dinaciclib</text>
<line x1="502.79" y1="479.30" x2="502.79" y2="474.60" stroke="#000" stroke-width="0.7" />
<line x1="501.29" y1="474.60" x2="504.29" y2="474.60" stroke="#000" stroke-width="0.7" />
<rect x="499.99" y="477.80" width="5.60" height="52.70" fill="#000" stroke="#000" stroke-width="1.0" />
<line x1="502.79" y1="530.50" x2="502.79" y2="534.10" stroke="#000" stroke-width="0.8" />
<text transform="translate(505.37,536.00) rotate(-90)" font-size="7.2" text-anchor="end" font-weight="normal" fill="#000" stroke="#000" stroke-width="0.15">Brigatinib -&gt; Dinaciclib</text>
<text x="480.80" y="439.68" font-size="7.2" text-anchor="middle" font-weight="normal" fill="#222" stroke="#222" stroke-width="0.15"  >0.63</text>
<text x="480.80" y="448.05" font-size="7.4" text-anchor="middle" font-weight="normal" fill="#111"  >#</text>
<text x="503.00" y="462.28" font-size="7.2" text-anchor="middle" font-weight="normal" fill="#222" stroke="#222" stroke-width="0.15"  >0.93</text>
<text x="503.00" y="471.25" font-size="7.4" text-anchor="middle" font-weight="normal" fill="#111"  >#</text>
<line x1="400.09" y1="611.70" x2="419.93" y2="611.70" stroke="#000" stroke-width="1.2" />
<text x="410.06" y="619.90" font-size="6.7" text-anchor="middle" font-weight="bold" fill="#000"  >BCL-2</text>
<line x1="421.98" y1="611.70" x2="463.71" y2="611.70" stroke="#000" stroke-width="1.2" />
<text x="442.90" y="619.90" font-size="6.7" text-anchor="middle" font-weight="bold" fill="#000"  >BCL-xL</text>
<line x1="465.76" y1="611.70" x2="507.49" y2="611.70" stroke="#000" stroke-width="1.2" />
<text x="486.68" y="619.90" font-size="6.7" text-anchor="middle" font-weight="bold" fill="#000"  >MCL-1</text>
<text x="615.70" y="429.05" font-size="8.8" text-anchor="middle" font-weight="bold" fill="#000"  >H3122</text>
<line x1="544.00" y1="530.50" x2="548.00" y2="530.50" stroke="#000" stroke-width="0.8" />
<text x="543.00" y="532.79" font-size="6.4" text-anchor="end" font-weight="bold" fill="#000"  >0</text>
<line x1="544.00" y1="512.52" x2="548.00" y2="512.52" stroke="#000" stroke-width="0.8" />
<text x="543.00" y="514.81" font-size="6.4" text-anchor="end" font-weight="bold" fill="#000"  >20</text>
<line x1="544.00" y1="494.54" x2="548.00" y2="494.54" stroke="#000" stroke-width="0.8" />
<text x="543.00" y="496.83" font-size="6.4" text-anchor="end" font-weight="bold" fill="#000"  >40</text>
<line x1="544.00" y1="476.56" x2="548.00" y2="476.56" stroke="#000" stroke-width="0.8" />
<text x="543.00" y="478.85" font-size="6.4" text-anchor="end" font-weight="bold" fill="#000"  >60</text>
<line x1="544.00" y1="458.58" x2="548.00" y2="458.58" stroke="#000" stroke-width="0.8" />
<text x="543.00" y="460.87" font-size="6.4" text-anchor="end" font-weight="bold" fill="#000"  >80</text>
<line x1="544.00" y1="440.60" x2="548.00" y2="440.60" stroke="#000" stroke-width="0.8" />
<text x="543.00" y="442.89" font-size="6.4" text-anchor="end" font-weight="bold" fill="#000"  >100</text>
<line x1="548.00" y1="440.20" x2="548.00" y2="530.90" stroke="#000" stroke-width="0.9" />
<line x1="547.60" y1="530.50" x2="682.64" y2="530.50" stroke="#000" stroke-width="0.9" />
<text transform="translate(527.87,485.70) rotate(-90)" font-size="7.45" text-anchor="middle" font-weight="bold" fill="#000">% Cell death</text>
<line x1="555.35" y1="521.50" x2="555.35" y2="517.10" stroke="#000" stroke-width="0.7" />
<line x1="553.85" y1="517.10" x2="556.85" y2="517.10" stroke="#000" stroke-width="0.7" />
<rect x="552.55" y="520.00" width="5.60" height="10.50" fill="#d9d9d9" stroke="#000" stroke-width="1.0" />
<line x1="555.35" y1="530.50" x2="555.35" y2="534.10" stroke="#000" stroke-width="0.8" />
<text transform="translate(557.93,536.00) rotate(-90)" font-size="7.2" text-anchor="end" font-weight="normal" fill="#000" stroke="#000" stroke-width="0.15">CTL</text>
<line x1="566.30" y1="479.60" x2="566.30" y2="475.20" stroke="#000" stroke-width="0.7" />
<line x1="564.80" y1="475.20" x2="567.80" y2="475.20" stroke="#000" stroke-width="0.7" />
<rect x="563.50" y="478.10" width="5.60" height="52.40" fill="#d9d9d9" stroke="#000" stroke-width="1.0" />
<line x1="566.30" y1="530.50" x2="566.30" y2="534.10" stroke="#000" stroke-width="0.8" />
<text transform="translate(568.87,536.00) rotate(-90)" font-size="7.2" text-anchor="end" font-weight="normal" fill="#000" stroke="#000" stroke-width="0.15">Lorlatinib</text>
<line x1="577.24" y1="525.00" x2="577.24" y2="522.10" stroke="#000" stroke-width="0.7" />
<line x1="575.74" y1="522.10" x2="578.74" y2="522.10" stroke="#000" stroke-width="0.7" />
<rect x="574.44" y="523.50" width="5.60" height="7.00" fill="#a6a6a8" stroke="#000" stroke-width="1.0" />
<line x1="577.24" y1="530.50" x2="577.24" y2="534.10" stroke="#000" stroke-width="0.8" />
<text transform="translate(579.82,536.00) rotate(-90)" font-size="7.2" text-anchor="end" font-weight="normal" fill="#000" stroke="#000" stroke-width="0.15">ABT-199</text>
<line x1="588.19" y1="473.10" x2="588.19" y2="466.10" stroke="#000" stroke-width="0.7" />
<line x1="586.69" y1="466.10" x2="589.69" y2="466.10" stroke="#000" stroke-width="0.7" />
<rect x="585.39" y="471.60" width="5.60" height="58.90" fill="#a6a6a8" stroke="#000" stroke-width="1.0" />
<line x1="588.19" y1="530.50" x2="588.19" y2="534.10" stroke="#000" stroke-width="0.8" />
<text transform="translate(590.76,536.00) rotate(-90)" font-size="7.2" text-anchor="end" font-weight="normal" fill="#000" stroke="#000" stroke-width="0.15">Lorlatinib -&gt; ABT-199</text>
<line x1="599.13" y1="525.00" x2="599.13" y2="520.30" stroke="#000" stroke-width="0.7" />
<line x1="597.63" y1="520.30" x2="600.63" y2="520.30" stroke="#000" stroke-width="0.7" />
<rect x="596.33" y="523.50" width="5.60" height="7.00" fill="#636363" stroke="#000" stroke-width="1.0" />
<line x1="599.13" y1="530.50" x2="599.13" y2="534.10" stroke="#000" stroke-width="0.8" />
<text transform="translate(601.71,536.00) rotate(-90)" font-size="7.2" text-anchor="end" font-weight="normal" fill="#000" stroke="#000" stroke-width="0.15">A-133</text>
<line x1="610.08" y1="476.10" x2="610.08" y2="471.40" stroke="#000" stroke-width="0.7" />
<line x1="608.58" y1="471.40" x2="611.58" y2="471.40" stroke="#000" stroke-width="0.7" />
<rect x="607.28" y="474.60" width="5.60" height="55.90" fill="#636363" stroke="#000" stroke-width="1.0" />
<line x1="610.08" y1="530.50" x2="610.08" y2="534.10" stroke="#000" stroke-width="0.8" />
<text transform="translate(612.65,536.00) rotate(-90)" font-size="7.2" text-anchor="end" font-weight="normal" fill="#000" stroke="#000" stroke-width="0.15">Lorlatinib -&gt; A-133</text>
<line x1="621.02" y1="517.00" x2="621.02" y2="511.30" stroke="#000" stroke-width="0.7" />
<line x1="619.52" y1="511.30" x2="622.52" y2="511.30" stroke="#000" stroke-width="0.7" />
<rect x="618.22" y="515.50" width="5.60" height="15.00" fill="#636363" stroke="#000" stroke-width="1.0" />
<line x1="621.02" y1="530.50" x2="621.02" y2="534.10" stroke="#000" stroke-width="0.8" />
<text transform="translate(623.60,536.00) rotate(-90)" font-size="7.2" text-anchor="end" font-weight="normal" fill="#000" stroke="#000" stroke-width="0.15">DT2216</text>
<line x1="631.97" y1="483.70" x2="631.97" y2="480.80" stroke="#000" stroke-width="0.7" />
<line x1="630.47" y1="480.80" x2="633.47" y2="480.80" stroke="#000" stroke-width="0.7" />
<rect x="629.17" y="482.20" width="5.60" height="48.30" fill="#636363" stroke="#000" stroke-width="1.0" />
<line x1="631.97" y1="530.50" x2="631.97" y2="534.10" stroke="#000" stroke-width="0.8" />
<text transform="translate(634.54,536.00) rotate(-90)" font-size="7.2" text-anchor="end" font-weight="normal" fill="#000" stroke="#000" stroke-width="0.15">Lorlatinib -&gt; DT2216</text>
<line x1="642.91" y1="516.50" x2="642.91" y2="511.50" stroke="#000" stroke-width="0.7" />
<line x1="641.41" y1="511.50" x2="644.41" y2="511.50" stroke="#000" stroke-width="0.7" />
<rect x="640.11" y="515.00" width="5.60" height="15.50" fill="#000" stroke="#000" stroke-width="1.0" />
<line x1="642.91" y1="530.50" x2="642.91" y2="534.10" stroke="#000" stroke-width="0.8" />
<text transform="translate(645.49,536.00) rotate(-90)" font-size="7.2" text-anchor="end" font-weight="normal" fill="#000" stroke="#000" stroke-width="0.15">S63845</text>
<line x1="653.86" y1="454.50" x2="653.86" y2="449.50" stroke="#000" stroke-width="0.7" />
<line x1="652.36" y1="449.50" x2="655.36" y2="449.50" stroke="#000" stroke-width="0.7" />
<rect x="651.06" y="453.00" width="5.60" height="77.50" fill="#000" stroke="#000" stroke-width="1.0" />
<line x1="653.86" y1="530.50" x2="653.86" y2="534.10" stroke="#000" stroke-width="0.8" />
<text transform="translate(656.43,536.00) rotate(-90)" font-size="7.2" text-anchor="end" font-weight="normal" fill="#000" stroke="#000" stroke-width="0.15">Lorlatinib -&gt; S63845</text>
<line x1="664.80" y1="507.30" x2="664.80" y2="499.40" stroke="#000" stroke-width="0.7" />
<line x1="663.30" y1="499.40" x2="666.30" y2="499.40" stroke="#000" stroke-width="0.7" />
<rect x="662.00" y="505.80" width="5.60" height="24.70" fill="#000" stroke="#000" stroke-width="1.0" />
<line x1="664.80" y1="530.50" x2="664.80" y2="534.10" stroke="#000" stroke-width="0.8" />
<text transform="translate(667.38,536.00) rotate(-90)" font-size="7.2" text-anchor="end" font-weight="normal" fill="#000" stroke="#000" stroke-width="0.15">Dinaciclib</text>
<line x1="675.75" y1="473.10" x2="675.75" y2="467.50" stroke="#000" stroke-width="0.7" />
<line x1="674.25" y1="467.50" x2="677.25" y2="467.50" stroke="#000" stroke-width="0.7" />
<rect x="672.95" y="471.60" width="5.60" height="58.90" fill="#000" stroke="#000" stroke-width="1.0" />
<line x1="675.75" y1="530.50" x2="675.75" y2="534.10" stroke="#000" stroke-width="0.8" />
<text transform="translate(678.32,536.00) rotate(-90)" font-size="7.2" text-anchor="end" font-weight="normal" fill="#000" stroke="#000" stroke-width="0.15">Lorlatinib -&gt; Dinaciclib</text>
<text x="653.60" y="437.78" font-size="7.2" text-anchor="middle" font-weight="normal" fill="#222" stroke="#222" stroke-width="0.15"  >0.73</text>
<text x="653.60" y="446.45" font-size="7.4" text-anchor="middle" font-weight="normal" fill="#111"  >#</text>
<line x1="573.04" y1="611.70" x2="592.88" y2="611.70" stroke="#000" stroke-width="1.2" />
<text x="583.01" y="619.90" font-size="6.7" text-anchor="middle" font-weight="bold" fill="#000"  >BCL-2</text>
<line x1="594.93" y1="611.70" x2="636.66" y2="611.70" stroke="#000" stroke-width="1.2" />
<text x="615.85" y="619.90" font-size="6.7" text-anchor="middle" font-weight="bold" fill="#000"  >BCL-xL</text>
<line x1="638.71" y1="611.70" x2="680.44" y2="611.70" stroke="#000" stroke-width="1.2" />
<text x="659.63" y="619.90" font-size="6.7" text-anchor="middle" font-weight="bold" fill="#000"  >MCL-1</text>
</svg></body></html>
